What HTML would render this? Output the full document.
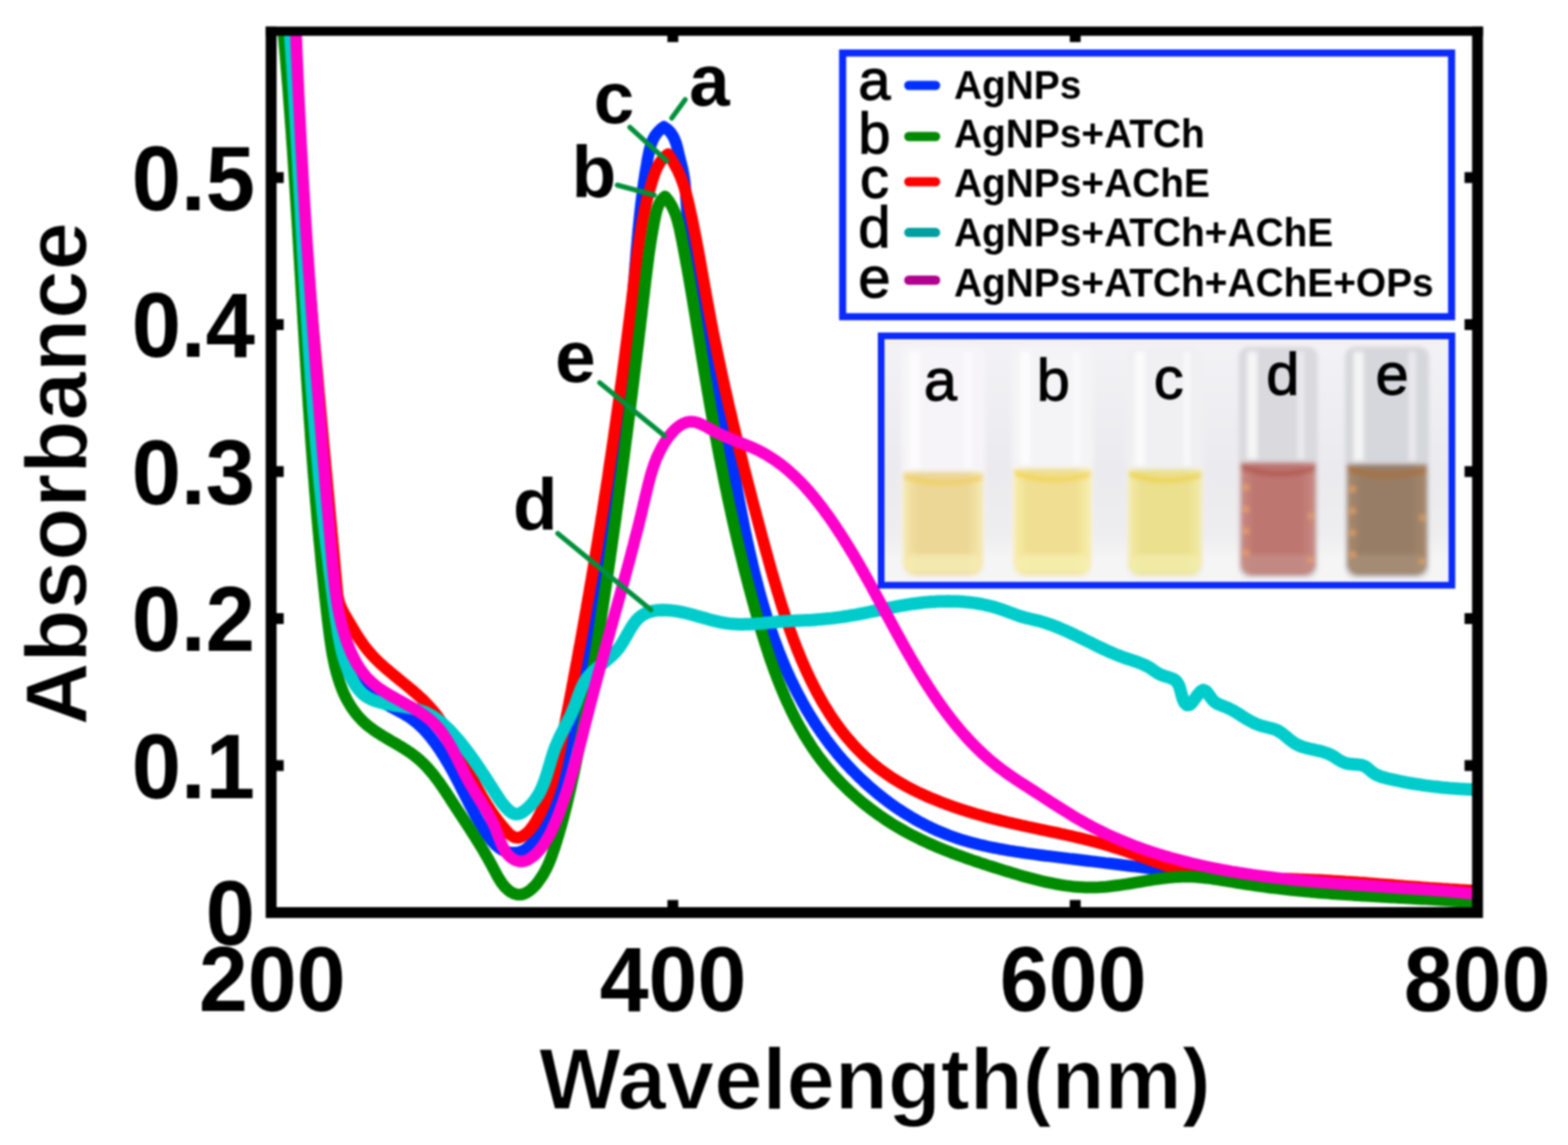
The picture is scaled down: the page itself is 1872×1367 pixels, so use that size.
<!DOCTYPE html>
<html><head><meta charset="utf-8"><title>UV-vis absorbance spectra</title>
<style>html,body{margin:0;padding:0;background:#fff;overflow:hidden}svg{display:block;filter:blur(1.2px)}</style>
</head><body>
<svg width="1872" height="1367" viewBox="0 0 1872 1367">
<defs><clipPath id="pc"><rect x="323" y="37" width="1441" height="1052"/></clipPath>
<filter id="blur1" x="-5%" y="-5%" width="110%" height="110%"><feGaussianBlur stdDeviation="0.8"/></filter>
<filter id="blur3" x="-10%" y="-10%" width="120%" height="120%"><feGaussianBlur stdDeviation="3"/></filter>
</defs>
<rect width="1872" height="1367" fill="#fff"/>
<g clip-path="url(#pc)" fill="none" stroke-linejoin="round" stroke-linecap="round">
<path d="M349.9,9.8 350.1,13.8 350.2,17.7 350.3,21.7 350.4,25.7 350.5,29.7 350.7,33.7 350.8,37.7 350.9,41.7 351.1,45.7 351.2,49.7 351.3,53.7 351.5,57.7 351.6,61.6 351.8,65.6 351.9,69.6 352.1,73.6 352.3,77.6 352.4,81.6 352.6,85.6 352.7,89.6 352.9,93.6 353.1,97.6 353.3,101.5 353.4,105.5 353.6,109.5 353.8,113.5 354.0,117.5 354.2,121.5 354.4,125.5 354.6,129.5 354.8,133.5 355.0,137.4 355.2,141.4 355.4,145.4 355.6,149.4 355.8,153.4 356.0,157.4 356.2,161.4 356.4,165.4 356.6,169.3 356.8,173.3 357.1,177.3 357.3,181.3 357.5,185.3 357.7,189.3 358.0,193.3 358.2,197.2 358.4,201.2 358.7,205.2 358.9,209.2 359.2,213.2 359.4,217.2 359.6,221.2 359.9,225.1 360.1,229.1 360.4,233.1 360.6,237.1 360.9,241.1 361.2,245.1 361.4,249.1 361.7,253.0 361.9,257.0 362.2,261.0 362.5,265.0 362.7,269.0 363.0,273.0 363.3,276.9 363.5,280.9 363.8,284.9 364.1,288.9 364.4,292.9 364.6,296.9 364.9,300.8 365.2,304.8 365.5,308.8 365.8,312.8 366.0,316.8 366.3,320.8 366.6,324.7 366.9,328.7 367.2,332.7 367.5,336.7 367.8,340.7 368.1,344.7 368.4,348.6 368.7,352.6 369.0,356.6 369.3,360.6 369.6,364.6 369.9,368.5 370.2,372.5 370.5,376.5 370.8,380.5 371.1,384.5 371.4,388.5 371.7,392.4 372.0,396.4 372.3,400.4 372.6,404.4 373.0,408.4 373.3,412.3 373.6,416.3 373.9,420.3 374.2,424.3 374.5,428.3 374.8,432.2 375.2,436.2 375.5,440.2 375.8,444.2 376.1,448.2 376.4,452.1 376.8,456.1 377.1,460.1 377.4,464.1 377.7,468.1 378.1,472.0 378.4,476.0 378.7,480.0 379.0,484.0 379.4,488.0 379.7,491.9 380.0,495.9 380.3,499.9 380.7,503.9 381.0,507.9 381.3,511.8 381.6,515.8 382.0,519.8 382.3,523.8 382.6,527.8 382.9,531.7 383.3,535.7 383.6,539.7 383.9,543.7 384.3,547.7 384.6,551.6 384.9,555.6 385.2,559.6 385.6,563.6 385.9,567.6 386.2,571.5 386.6,575.5 386.9,579.5 387.2,583.5 387.5,587.5 387.9,591.4 388.2,595.4 388.5,599.4 388.9,603.4 389.2,607.4 389.5,611.3 389.8,615.3 390.2,619.3 390.5,623.3 390.8,627.3 391.1,631.2 391.5,635.2 391.8,639.2 392.1,643.2 392.4,647.2 392.8,651.1 393.1,655.1 393.4,659.1 393.7,663.1 394.0,667.1 394.4,671.0 394.7,675.0 395.0,679.0 395.4,683.0 395.7,686.9 396.1,690.9 396.5,694.9 396.9,698.9 397.3,702.8 397.8,706.8 398.2,710.8 398.7,714.7 399.3,718.7 399.8,722.6 400.4,726.6 401.1,730.5 401.8,734.5 402.5,738.4 403.3,742.3 404.1,746.2 404.9,750.1 405.9,754.0 406.9,757.9 407.9,761.7 409.0,765.6 410.2,769.4 411.4,773.2 412.7,776.9 414.1,780.7 415.6,784.4 417.1,788.1 418.7,791.8 420.4,795.4 422.2,799.0 424.0,802.5 426.0,806.0 428.0,809.4 430.2,812.7 432.5,816.0 434.9,819.2 437.5,822.3 440.2,825.2 443.0,828.0 446.0,830.7 449.1,833.2 452.3,835.5 455.7,837.7 459.1,839.8 462.5,841.7 466.0,843.7 469.6,845.5 473.1,847.4 476.6,849.3 480.1,851.2 483.6,853.2 487.0,855.3 490.3,857.5 493.5,859.9 496.7,862.3 499.7,864.9 502.6,867.7 505.5,870.5 508.2,873.4 510.8,876.4 513.4,879.4 515.9,882.6 518.3,885.8 520.6,889.0 522.9,892.3 525.2,895.6 527.3,898.9 529.5,902.3 531.6,905.7 533.6,909.1 535.6,912.5 537.6,916.0 539.6,919.5 541.5,923.0 543.3,926.5 545.2,930.1 547.1,933.6 548.9,937.2 550.7,940.7 552.5,944.3 554.3,947.8 556.1,951.4 558.0,954.9 559.8,958.5 561.6,962.0 563.5,965.6 565.4,969.1 567.3,972.6 569.2,976.1 571.2,979.5 573.2,983.0 575.3,986.4 577.4,989.8 579.5,993.2 581.7,996.5 584.0,999.8 586.4,1003.0 589.0,1006.0 591.8,1008.9 594.8,1011.5 598.0,1013.8 601.6,1015.7 605.3,1017.0 609.2,1017.9 613.2,1018.1 617.2,1017.9 621.1,1017.0 624.8,1015.5 628.2,1013.4 631.3,1010.9 634.1,1008.1 636.6,1005.0 639.0,1001.8 641.2,998.4 643.2,995.0 645.1,991.5 646.9,987.9 648.6,984.3 650.2,980.6 651.7,977.0 653.2,973.2 654.6,969.5 655.9,965.7 657.2,962.0 658.5,958.2 659.7,954.4 660.9,950.6 662.1,946.8 663.3,942.9 664.4,939.1 665.5,935.3 666.6,931.4 667.7,927.6 668.8,923.7 669.8,919.9 670.9,916.0 671.9,912.2 672.9,908.3 673.9,904.4 674.9,900.6 675.9,896.7 676.8,892.8 677.8,889.0 678.8,885.1 679.7,881.2 680.6,877.3 681.5,873.4 682.5,869.5 683.4,865.7 684.2,861.8 685.1,857.9 686.0,854.0 686.9,850.1 687.7,846.2 688.6,842.3 689.4,838.4 690.2,834.5 691.0,830.5 691.9,826.6 692.7,822.7 693.5,818.8 694.3,814.9 695.0,811.0 695.8,807.1 696.6,803.1 697.3,799.2 698.1,795.3 698.8,791.4 699.6,787.5 700.3,783.5 701.0,779.6 701.8,775.7 702.5,771.8 703.2,767.8 703.9,763.9 704.6,760.0 705.3,756.0 706.0,752.1 706.6,748.2 707.3,744.2 708.0,740.3 708.7,736.4 709.3,732.4 710.0,728.5 710.6,724.5 711.3,720.6 711.9,716.7 712.6,712.7 713.2,708.8 713.8,704.8 714.5,700.9 715.1,696.9 715.7,693.0 716.3,689.1 716.9,685.1 717.6,681.2 718.2,677.2 718.8,673.3 719.4,669.3 719.9,665.4 720.5,661.4 721.1,657.5 721.7,653.5 722.3,649.6 722.9,645.6 723.4,641.7 724.0,637.7 724.5,633.8 725.1,629.8 725.7,625.9 726.2,621.9 726.8,617.9 727.3,614.0 727.8,610.0 728.4,606.1 728.9,602.1 729.4,598.2 730.0,594.2 730.5,590.2 731.0,586.3 731.5,582.3 732.0,578.4 732.5,574.4 733.0,570.4 733.5,566.5 734.0,562.5 734.5,558.5 735.0,554.6 735.5,550.6 736.0,546.7 736.4,542.7 736.9,538.7 737.4,534.8 737.8,530.8 738.3,526.8 738.8,522.9 739.2,518.9 739.7,514.9 740.1,511.0 740.6,507.0 741.0,503.0 741.5,499.1 741.9,495.1 742.3,491.1 742.8,487.2 743.2,483.2 743.6,479.2 744.0,475.2 744.5,471.3 744.9,467.3 745.3,463.3 745.7,459.4 746.1,455.4 746.5,451.4 746.9,447.4 747.3,443.5 747.7,439.5 748.1,435.5 748.5,431.5 748.9,427.6 749.2,423.6 749.6,419.6 750.0,415.6 750.4,411.7 750.7,407.7 751.1,403.7 751.5,399.7 751.8,395.8 752.2,391.8 752.5,387.8 752.9,383.8 753.2,379.9 753.6,375.9 753.9,371.9 754.3,367.9 754.6,363.9 755.0,360.0 755.3,356.0 755.6,352.0 756.0,348.0 756.3,344.0 756.6,340.1 756.9,336.1 757.3,332.1 757.6,328.1 757.9,324.1 758.2,320.2 758.5,316.2 758.9,312.2 759.2,308.2 759.5,304.2 759.8,300.3 760.2,296.3 760.5,292.3 760.9,288.3 761.2,284.3 761.6,280.4 761.9,276.4 762.3,272.4 762.7,268.4 763.1,264.5 763.5,260.5 763.9,256.5 764.3,252.6 764.8,248.6 765.2,244.6 765.7,240.7 766.2,236.7 766.7,232.7 767.2,228.8 767.7,224.8 768.3,220.9 768.8,216.9 769.4,213.0 770.0,209.0 770.6,205.1 771.3,201.1 772.0,197.2 772.6,193.3 773.3,189.3 774.1,185.4 774.9,181.5 775.8,177.6 776.9,173.7 778.1,170.0 779.7,166.3 781.6,162.8 783.9,159.5 786.5,156.5 789.4,153.8 792.7,151.5 L792.7,151.5 796.0,153.7 799.0,156.4 801.5,159.5 803.7,162.9 805.4,166.5 806.8,170.2 808.0,174.0 809.0,177.9 809.9,181.8 810.8,185.7 811.7,189.6 812.7,193.4 813.7,197.3 814.7,201.2 815.5,205.1 816.2,209.0 816.8,213.0 817.4,217.0 817.8,220.9 818.2,224.9 818.6,228.9 818.9,232.9 819.2,236.9 819.5,240.9 819.7,244.8 820.0,248.8 820.3,252.8 820.6,256.8 821.0,260.8 821.3,264.8 821.7,268.8 822.1,272.7 822.6,276.7 823.0,280.7 823.5,284.7 824.0,288.6 824.5,292.6 825.0,296.6 825.5,300.5 826.1,304.5 826.7,308.4 827.3,312.4 827.9,316.3 828.5,320.3 829.2,324.2 829.8,328.2 830.5,332.1 831.2,336.1 831.9,340.0 832.6,343.9 833.3,347.9 834.1,351.8 834.8,355.7 835.6,359.6 836.3,363.6 837.1,367.5 837.9,371.4 838.7,375.3 839.5,379.2 840.3,383.2 841.1,387.1 841.9,391.0 842.8,394.9 843.6,398.8 844.4,402.7 845.3,406.6 846.1,410.6 846.9,414.5 847.8,418.4 848.6,422.3 849.4,426.2 850.3,430.1 851.1,434.0 851.9,437.9 852.8,441.8 853.6,445.7 854.4,449.7 855.3,453.6 856.1,457.5 856.9,461.4 857.7,465.3 858.5,469.2 859.3,473.2 860.1,477.1 860.8,481.0 861.6,484.9 862.4,488.8 863.1,492.8 863.9,496.7 864.6,500.6 865.3,504.6 866.1,508.5 866.8,512.4 867.5,516.4 868.3,520.3 869.0,524.2 869.7,528.2 870.4,532.1 871.1,536.0 871.8,540.0 872.5,543.9 873.3,547.8 874.0,551.8 874.7,555.7 875.4,559.6 876.1,563.6 876.8,567.5 877.5,571.4 878.3,575.4 879.0,579.3 879.7,583.2 880.4,587.2 881.2,591.1 881.9,595.0 882.7,599.0 883.4,602.9 884.2,606.8 884.9,610.7 885.7,614.7 886.5,618.6 887.3,622.5 888.0,626.4 888.8,630.3 889.6,634.3 890.5,638.2 891.3,642.1 892.1,646.0 893.0,649.9 893.8,653.8 894.7,657.7 895.6,661.6 896.5,665.5 897.4,669.4 898.3,673.3 899.2,677.2 900.1,681.1 901.1,685.0 902.1,688.8 903.1,692.7 904.1,696.6 905.1,700.5 906.1,704.3 907.1,708.2 908.2,712.0 909.3,715.9 910.4,719.7 911.5,723.6 912.7,727.4 913.8,731.2 915.0,735.0 916.2,738.9 917.4,742.7 918.7,746.5 919.9,750.3 921.2,754.0 922.5,757.8 923.8,761.6 925.2,765.4 926.6,769.1 928.0,772.9 929.4,776.6 930.9,780.3 932.3,784.0 933.8,787.7 935.4,791.4 936.9,795.1 938.5,798.8 940.1,802.4 941.8,806.1 943.4,809.7 945.1,813.3 946.9,816.9 948.6,820.5 950.4,824.1 952.2,827.7 954.1,831.2 956.0,834.7 957.9,838.3 959.8,841.7 961.8,845.2 963.8,848.7 965.9,852.1 968.0,855.5 970.1,858.9 972.2,862.3 974.4,865.6 976.6,869.0 978.9,872.3 981.1,875.6 983.5,878.8 985.8,882.1 988.2,885.3 990.6,888.5 993.1,891.6 995.5,894.7 998.1,897.9 1000.6,900.9 1003.2,904.0 1005.8,907.0 1008.5,910.0 1011.2,912.9 1013.9,915.9 1016.7,918.8 1019.5,921.6 1022.3,924.5 1025.1,927.3 1028.0,930.0 1030.9,932.8 1033.9,935.5 1036.8,938.2 1039.8,940.8 1042.9,943.4 1045.9,946.0 1049.0,948.5 1052.2,951.0 1055.3,953.5 1058.5,955.9 1061.7,958.3 1064.9,960.6 1068.2,962.9 1071.5,965.2 1074.8,967.4 1078.2,969.6 1081.6,971.7 1085.0,973.8 1088.4,975.9 1091.8,977.9 1095.3,979.9 1098.8,981.8 1102.4,983.6 1105.9,985.5 1109.5,987.2 1113.1,989.0 1116.8,990.6 1120.4,992.3 1124.1,993.8 1127.8,995.3 1131.5,996.8 1135.3,998.2 1139.0,999.5 1142.8,1000.8 1146.6,1002.1 1150.4,1003.2 1154.3,1004.4 1158.1,1005.5 1162.0,1006.5 1165.8,1007.5 1169.7,1008.5 1173.6,1009.4 1177.5,1010.3 1181.4,1011.2 1185.3,1012.0 1189.3,1012.7 1193.2,1013.5 1197.1,1014.2 1201.1,1014.9 1205.0,1015.6 1209.0,1016.2 1212.9,1016.8 1216.9,1017.4 1220.8,1018.0 1224.8,1018.6 1228.7,1019.1 1232.7,1019.6 1236.7,1020.2 1240.6,1020.7 1244.6,1021.2 1248.6,1021.7 1252.5,1022.1 1256.5,1022.6 1260.5,1023.1 1264.4,1023.6 1268.4,1024.1 1272.4,1024.6 1276.3,1025.1 1280.3,1025.5 1284.3,1026.0 1288.3,1026.5 1292.2,1027.0 1296.2,1027.5 1300.2,1028.0 1304.1,1028.4 1308.1,1028.9 1312.1,1029.4 1316.0,1029.9 1320.0,1030.4 1324.0,1030.8 1327.9,1031.3 1331.9,1031.8 1335.9,1032.3 1339.9,1032.8 1343.8,1033.2 1347.8,1033.7 1351.8,1034.2 1355.7,1034.6 1359.7,1035.1 1363.7,1035.6 1367.7,1036.1 1371.6,1036.5 1375.6,1037.0 1379.6,1037.4 1383.5,1037.9 1387.5,1038.4 1391.5,1038.8 1395.5,1039.3 1399.4,1039.7 1403.4,1040.2 1407.4,1040.6 1411.4,1041.1 1415.3,1041.5 1419.3,1042.0 1423.3,1042.4 1427.2,1042.9 1431.2,1043.3 1435.2,1043.7 1439.2,1044.2 1443.1,1044.6 1447.1,1045.0 1451.1,1045.4 1455.1,1045.9 1459.1,1046.3 1463.0,1046.7 1467.0,1047.1 1471.0,1047.5 1475.0,1048.0 1478.9,1048.4 1482.9,1048.8 1486.9,1049.2 1490.9,1049.6 1494.9,1050.0 1498.8,1050.4 1502.8,1050.7 1506.8,1051.1 1510.8,1051.5 1514.8,1051.9 1518.7,1052.3 1522.7,1052.7 1526.7,1053.0 1530.7,1053.4 1534.7,1053.8 1538.6,1054.1 1542.6,1054.5 1546.6,1054.8 1550.6,1055.2 1554.6,1055.5 1558.6,1055.9 1562.5,1056.2 1566.5,1056.5 1570.5,1056.9 1574.5,1057.2 1578.5,1057.5 1582.5,1057.8 1586.5,1058.1 1590.4,1058.4 1594.4,1058.7 1598.4,1059.0 1602.4,1059.3 1606.4,1059.6 1610.4,1059.9 1614.4,1060.2 1618.4,1060.5 1622.3,1060.8 1626.3,1061.0 1630.3,1061.3 1634.3,1061.5 1638.3,1061.8 1642.3,1062.1 1646.3,1062.3 1650.3,1062.5 1654.3,1062.8 1658.3,1063.0 1662.3,1063.2 1666.3,1063.4 1670.2,1063.7 1674.2,1063.9 1678.2,1064.1 1682.2,1064.3 1686.2,1064.5 1690.2,1064.6 1694.2,1064.8 1698.2,1065.0 1702.2,1065.2 1706.2,1065.3 1710.2,1065.5 1714.2,1065.6 1718.2,1065.8 1722.2,1065.9 1726.2,1066.1 1730.2,1066.2 1734.2,1066.3 1738.2,1066.4 1742.2,1066.6 1746.2,1066.7 1750.2,1066.8 1754.2,1066.8 1758.1,1066.9 1762.1,1067.0 1766.1,1067.1 1770.1,1067.2" stroke="#0030ff" stroke-width="14"/>
<path d="M350.5,9.9 350.6,13.9 350.7,17.9 350.8,21.9 350.9,25.9 351.1,29.9 351.2,33.9 351.3,37.8 351.5,41.8 351.6,45.8 351.8,49.8 351.9,53.8 352.1,57.8 352.2,61.8 352.4,65.8 352.6,69.8 352.7,73.8 352.9,77.8 353.1,81.7 353.2,85.7 353.4,89.7 353.6,93.7 353.8,97.7 354.0,101.7 354.2,105.7 354.3,109.7 354.5,113.7 354.7,117.6 354.9,121.6 355.1,125.6 355.4,129.6 355.6,133.6 355.8,137.6 356.0,141.6 356.2,145.6 356.4,149.6 356.6,153.5 356.9,157.5 357.1,161.5 357.3,165.5 357.6,169.5 357.8,173.5 358.0,177.5 358.3,181.4 358.5,185.4 358.8,189.4 359.0,193.4 359.3,197.4 359.5,201.4 359.8,205.4 360.0,209.3 360.3,213.3 360.6,217.3 360.8,221.3 361.1,225.3 361.4,229.3 361.6,233.3 361.9,237.2 362.2,241.2 362.5,245.2 362.7,249.2 363.0,253.2 363.3,257.2 363.6,261.1 363.9,265.1 364.2,269.1 364.5,273.1 364.8,277.1 365.0,281.1 365.3,285.0 365.6,289.0 365.9,293.0 366.3,297.0 366.6,301.0 366.9,304.9 367.2,308.9 367.5,312.9 367.8,316.9 368.1,320.9 368.4,324.9 368.7,328.8 369.1,332.8 369.4,336.8 369.7,340.8 370.0,344.8 370.3,348.7 370.7,352.7 371.0,356.7 371.3,360.7 371.7,364.7 372.0,368.6 372.3,372.6 372.7,376.6 373.0,380.6 373.3,384.6 373.7,388.5 374.0,392.5 374.3,396.5 374.7,400.5 375.0,404.5 375.4,408.4 375.7,412.4 376.1,416.4 376.4,420.4 376.8,424.3 377.1,428.3 377.4,432.3 377.8,436.3 378.2,440.3 378.5,444.2 378.9,448.2 379.2,452.2 379.6,456.2 379.9,460.1 380.3,464.1 380.6,468.1 381.0,472.1 381.4,476.1 381.7,480.0 382.1,484.0 382.4,488.0 382.8,492.0 383.2,495.9 383.5,499.9 383.9,503.9 384.2,507.9 384.6,511.9 385.0,515.8 385.3,519.8 385.7,523.8 386.1,527.8 386.4,531.7 386.8,535.7 387.2,539.7 387.5,543.7 387.9,547.6 388.3,551.6 388.6,555.6 389.0,559.6 389.4,563.5 389.8,567.5 390.1,571.5 390.5,575.5 390.9,579.5 391.2,583.4 391.6,587.4 392.0,591.4 392.3,595.4 392.7,599.3 393.1,603.3 393.4,607.3 393.8,611.3 394.2,615.2 394.5,619.2 394.9,623.2 395.3,627.2 395.7,631.1 396.0,635.1 396.4,639.1 396.8,643.1 397.1,647.1 397.5,651.0 397.9,655.0 398.2,659.0 398.6,663.0 399.0,666.9 399.3,670.9 399.7,674.9 400.0,678.9 400.4,682.8 400.8,686.8 401.1,690.8 401.5,694.8 401.9,698.8 402.2,702.7 402.6,706.7 403.1,710.7 403.8,714.6 404.8,718.5 406.0,722.3 407.6,725.9 409.3,729.5 411.2,733.0 413.2,736.5 415.2,740.0 417.2,743.4 419.3,746.8 421.3,750.3 423.4,753.7 425.5,757.1 427.6,760.5 429.8,763.8 432.1,767.1 434.4,770.4 436.8,773.6 439.3,776.7 441.9,779.7 444.5,782.7 447.3,785.6 450.1,788.4 453.0,791.2 455.9,793.9 458.9,796.5 461.9,799.1 465.0,801.7 468.0,804.3 471.1,806.8 474.2,809.3 477.3,811.9 480.4,814.4 483.5,816.9 486.6,819.4 489.7,822.0 492.7,824.5 495.8,827.2 498.8,829.8 501.7,832.5 504.6,835.2 507.4,838.1 510.2,840.9 512.9,843.9 515.5,846.9 518.1,849.9 520.6,853.1 523.0,856.3 525.3,859.5 527.6,862.8 529.8,866.1 532.0,869.5 534.1,872.9 536.1,876.3 538.1,879.7 540.1,883.2 542.0,886.7 543.9,890.2 545.8,893.7 547.7,897.3 549.5,900.8 551.3,904.4 553.1,908.0 554.9,911.5 556.7,915.1 558.5,918.7 560.3,922.2 562.1,925.8 563.9,929.4 565.7,932.9 567.5,936.5 569.4,940.0 571.3,943.5 573.3,947.0 575.2,950.5 577.2,953.9 579.3,957.3 581.4,960.7 583.6,964.1 585.7,967.4 588.0,970.7 590.3,974.0 592.6,977.2 595.0,980.4 597.5,983.6 600.0,986.7 602.6,989.7 605.2,992.7 608.0,995.6 611.2,998.0 614.7,999.8 618.7,1000.2 622.5,999.1 625.9,997.1 629.1,994.6 631.9,991.8 634.4,988.7 636.8,985.5 639.0,982.2 641.0,978.7 642.9,975.2 644.8,971.7 646.5,968.1 648.2,964.5 649.8,960.8 651.4,957.1 652.9,953.4 654.3,949.7 655.6,945.9 656.9,942.1 658.1,938.3 659.3,934.5 660.4,930.7 661.4,926.8 662.4,923.0 663.3,919.1 664.3,915.2 665.1,911.3 666.0,907.4 666.8,903.5 667.6,899.6 668.4,895.7 669.2,891.7 670.0,887.8 670.8,883.9 671.5,880.0 672.3,876.1 673.1,872.2 673.8,868.2 674.6,864.3 675.4,860.4 676.1,856.5 676.9,852.6 677.7,848.6 678.4,844.7 679.2,840.8 679.9,836.9 680.7,832.9 681.4,829.0 682.2,825.1 682.9,821.2 683.6,817.2 684.4,813.3 685.1,809.4 685.8,805.5 686.6,801.5 687.3,797.6 688.0,793.7 688.8,789.8 689.5,785.8 690.2,781.9 690.9,778.0 691.6,774.1 692.4,770.1 693.1,766.2 693.8,762.3 694.5,758.3 695.2,754.4 695.9,750.5 696.6,746.5 697.3,742.6 698.0,738.7 698.7,734.7 699.4,730.8 700.1,726.9 700.7,722.9 701.4,719.0 702.1,715.1 702.8,711.1 703.5,707.2 704.1,703.3 704.8,699.3 705.5,695.4 706.2,691.5 706.8,687.5 707.5,683.6 708.2,679.6 708.8,675.7 709.5,671.8 710.1,667.8 710.8,663.9 711.4,659.9 712.1,656.0 712.7,652.1 713.4,648.1 714.0,644.2 714.6,640.2 715.3,636.3 715.9,632.4 716.6,628.4 717.2,624.5 717.8,620.5 718.4,616.6 719.1,612.6 719.7,608.7 720.3,604.7 720.9,600.8 721.5,596.9 722.1,592.9 722.7,589.0 723.4,585.0 724.0,581.1 724.6,577.1 725.2,573.2 725.8,569.2 726.4,565.3 726.9,561.3 727.5,557.4 728.1,553.4 728.7,549.5 729.3,545.5 729.9,541.6 730.5,537.6 731.0,533.7 731.6,529.7 732.2,525.8 732.8,521.8 733.3,517.9 733.9,513.9 734.5,509.9 735.0,506.0 735.6,502.0 736.1,498.1 736.7,494.1 737.2,490.2 737.8,486.2 738.3,482.3 738.9,478.3 739.4,474.4 740.0,470.4 740.5,466.4 741.0,462.5 741.6,458.5 742.1,454.6 742.6,450.6 743.2,446.7 743.7,442.7 744.2,438.7 744.7,434.8 745.3,430.8 745.8,426.9 746.3,422.9 746.8,418.9 747.3,415.0 747.8,411.0 748.3,407.1 748.8,403.1 749.3,399.1 749.8,395.2 750.3,391.2 750.8,387.2 751.3,383.3 751.8,379.3 752.3,375.4 752.8,371.4 753.3,367.4 753.8,363.5 754.3,359.5 754.7,355.5 755.2,351.6 755.7,347.6 756.2,343.6 756.6,339.7 757.1,335.7 757.6,331.7 758.0,327.8 758.5,323.8 759.0,319.8 759.5,315.9 760.0,311.9 760.5,307.9 761.0,304.0 761.5,300.0 762.0,296.1 762.6,292.1 763.1,288.2 763.7,284.2 764.3,280.3 765.0,276.3 765.6,272.4 766.3,268.4 767.0,264.5 767.7,260.6 768.5,256.7 769.3,252.8 770.1,248.8 771.0,244.9 771.9,241.1 772.8,237.2 773.8,233.3 774.8,229.4 775.9,225.6 777.0,221.8 778.1,217.9 779.3,214.1 780.5,210.3 781.9,206.6 783.3,202.8 785.0,199.2 786.9,195.7 789.1,192.4 791.6,189.3 794.5,186.5 797.6,184.0 L797.6,184.0 799.8,187.3 802.0,190.7 804.1,194.1 806.0,197.6 807.9,201.1 809.7,204.7 811.3,208.3 812.9,212.0 814.3,215.8 815.6,219.5 816.9,223.3 818.0,227.2 819.1,231.0 820.1,234.9 821.1,238.8 822.0,242.6 822.9,246.5 823.8,250.4 824.6,254.3 825.5,258.2 826.3,262.2 827.1,266.1 827.9,270.0 828.7,273.9 829.5,277.8 830.3,281.8 831.0,285.7 831.8,289.6 832.5,293.5 833.3,297.5 834.0,301.4 834.7,305.3 835.4,309.3 836.1,313.2 836.8,317.1 837.5,321.1 838.2,325.0 838.9,329.0 839.6,332.9 840.3,336.8 841.0,340.8 841.7,344.7 842.4,348.6 843.1,352.6 843.8,356.5 844.5,360.4 845.3,364.4 846.0,368.3 846.7,372.2 847.5,376.2 848.2,380.1 848.9,384.0 849.7,388.0 850.5,391.9 851.2,395.8 852.0,399.7 852.8,403.6 853.6,407.6 854.4,411.5 855.2,415.4 856.0,419.3 856.8,423.2 857.6,427.2 858.4,431.1 859.3,435.0 860.1,438.9 860.9,442.8 861.8,446.7 862.6,450.6 863.5,454.5 864.4,458.4 865.2,462.3 866.1,466.2 867.0,470.1 867.9,474.0 868.7,477.9 869.6,481.8 870.5,485.7 871.4,489.6 872.4,493.5 873.3,497.4 874.2,501.3 875.1,505.2 876.0,509.1 877.0,513.0 877.9,516.8 878.8,520.7 879.8,524.6 880.7,528.5 881.7,532.4 882.7,536.3 883.6,540.1 884.6,544.0 885.6,547.9 886.5,551.8 887.5,555.7 888.5,559.5 889.5,563.4 890.5,567.3 891.5,571.2 892.5,575.0 893.5,578.9 894.5,582.8 895.5,586.6 896.5,590.5 897.5,594.4 898.5,598.2 899.5,602.1 900.5,606.0 901.6,609.8 902.6,613.7 903.6,617.6 904.7,621.4 905.7,625.3 906.7,629.2 907.8,633.0 908.8,636.9 909.8,640.7 910.9,644.6 911.9,648.5 913.0,652.3 914.0,656.2 915.1,660.0 916.2,663.9 917.2,667.7 918.3,671.6 919.4,675.5 920.4,679.3 921.5,683.1 922.6,687.0 923.7,690.8 924.8,694.7 926.0,698.5 927.1,702.4 928.2,706.2 929.4,710.0 930.6,713.8 931.7,717.7 932.9,721.5 934.1,725.3 935.4,729.1 936.6,732.9 937.8,736.7 939.1,740.5 940.4,744.3 941.7,748.0 943.0,751.8 944.4,755.6 945.7,759.3 947.1,763.1 948.5,766.8 950.0,770.6 951.4,774.3 952.9,778.0 954.4,781.7 955.9,785.4 957.5,789.1 959.1,792.8 960.7,796.4 962.3,800.1 964.0,803.7 965.7,807.3 967.4,810.9 969.2,814.5 971.0,818.1 972.8,821.7 974.6,825.2 976.5,828.7 978.5,832.2 980.4,835.7 982.4,839.2 984.5,842.6 986.6,846.0 988.7,849.4 990.8,852.8 993.0,856.1 995.3,859.4 997.6,862.7 999.9,866.0 1002.3,869.2 1004.7,872.4 1007.1,875.5 1009.6,878.6 1012.2,881.7 1014.8,884.7 1017.4,887.7 1020.1,890.7 1022.9,893.6 1025.7,896.5 1028.5,899.3 1031.4,902.1 1034.3,904.8 1037.2,907.5 1040.3,910.1 1043.3,912.7 1046.4,915.2 1049.6,917.7 1052.8,920.1 1056.0,922.4 1059.3,924.7 1062.6,927.0 1065.9,929.2 1069.3,931.3 1072.7,933.4 1076.2,935.4 1079.7,937.4 1083.2,939.3 1086.7,941.2 1090.2,943.0 1093.8,944.8 1097.4,946.5 1101.0,948.2 1104.7,949.9 1108.3,951.5 1112.0,953.1 1115.7,954.6 1119.4,956.1 1123.1,957.6 1126.9,959.0 1130.6,960.4 1134.4,961.8 1138.1,963.1 1141.9,964.4 1145.7,965.7 1149.5,966.9 1153.3,968.2 1157.1,969.3 1161.0,970.5 1164.8,971.6 1168.6,972.7 1172.5,973.8 1176.3,974.9 1180.2,975.9 1184.1,977.0 1187.9,977.9 1191.8,978.9 1195.7,979.9 1199.6,980.8 1203.5,981.7 1207.4,982.6 1211.3,983.5 1215.2,984.4 1219.1,985.3 1223.0,986.1 1226.9,987.0 1230.8,987.8 1234.7,988.7 1238.6,989.5 1242.5,990.3 1246.4,991.1 1250.4,992.0 1254.3,992.8 1258.2,993.6 1262.1,994.4 1266.0,995.3 1269.9,996.1 1273.8,997.0 1277.7,997.9 1281.6,998.8 1285.5,999.7 1289.4,1000.6 1293.3,1001.5 1297.2,1002.5 1301.1,1003.4 1304.9,1004.4 1308.8,1005.5 1312.6,1006.5 1316.5,1007.6 1320.3,1008.7 1324.2,1009.8 1328.0,1011.0 1331.8,1012.2 1335.6,1013.4 1339.4,1014.6 1343.2,1015.9 1347.0,1017.2 1350.8,1018.6 1354.5,1019.9 1358.3,1021.3 1362.0,1022.6 1365.8,1024.0 1369.6,1025.4 1373.3,1026.7 1377.1,1028.1 1380.9,1029.4 1384.6,1030.7 1388.4,1032.0 1392.2,1033.3 1396.0,1034.5 1399.8,1035.7 1403.7,1036.8 1407.5,1037.9 1411.4,1039.0 1415.2,1040.0 1419.1,1040.9 1423.0,1041.8 1426.9,1042.6 1430.9,1043.4 1434.8,1044.0 1438.8,1044.6 1442.7,1045.2 1446.7,1045.7 1450.7,1046.1 1454.6,1046.5 1458.6,1046.8 1462.6,1047.1 1466.6,1047.4 1470.6,1047.6 1474.6,1047.8 1478.6,1048.0 1482.6,1048.1 1486.6,1048.2 1490.6,1048.3 1494.6,1048.4 1498.6,1048.5 1502.6,1048.5 1506.6,1048.6 1510.6,1048.6 1514.6,1048.7 1518.6,1048.7 1522.6,1048.8 1526.6,1048.9 1530.6,1049.0 1534.6,1049.1 1538.6,1049.2 1542.5,1049.3 1546.5,1049.4 1550.5,1049.6 1554.5,1049.7 1558.5,1049.9 1562.5,1050.1 1566.5,1050.2 1570.5,1050.4 1574.5,1050.6 1578.5,1050.8 1582.5,1051.0 1586.5,1051.2 1590.5,1051.5 1594.5,1051.7 1598.5,1051.9 1602.5,1052.2 1606.4,1052.5 1610.4,1052.7 1614.4,1053.0 1618.4,1053.3 1622.4,1053.6 1626.4,1053.8 1630.4,1054.1 1634.4,1054.4 1638.4,1054.7 1642.3,1055.1 1646.3,1055.4 1650.3,1055.7 1654.3,1056.0 1658.3,1056.3 1662.3,1056.6 1666.3,1056.9 1670.2,1057.2 1674.2,1057.6 1678.2,1057.9 1682.2,1058.2 1686.2,1058.5 1690.2,1058.8 1694.2,1059.1 1698.1,1059.4 1702.1,1059.7 1706.1,1060.0 1710.1,1060.2 1714.1,1060.5 1718.1,1060.8 1722.1,1061.1 1726.1,1061.3 1730.1,1061.6 1734.1,1061.8 1738.0,1062.0 1742.0,1062.3 1746.0,1062.5 1750.0,1062.7 1754.0,1062.9 1758.0,1063.0 1762.0,1063.2 1766.0,1063.4 1770.0,1063.5" stroke="#ff0000" stroke-width="14"/>
<path d="M335.5,9.6 335.9,13.6 336.3,17.5 336.7,21.5 337.1,25.5 337.4,29.5 337.8,33.5 338.2,37.4 338.5,41.4 338.9,45.4 339.3,49.4 339.6,53.3 340.0,57.3 340.3,61.3 340.7,65.3 341.0,69.3 341.4,73.2 341.7,77.2 342.0,81.2 342.4,85.2 342.7,89.2 343.0,93.2 343.3,97.1 343.7,101.1 344.0,105.1 344.3,109.1 344.6,113.1 344.9,117.0 345.2,121.0 345.5,125.0 345.8,129.0 346.1,133.0 346.4,137.0 346.7,140.9 347.0,144.9 347.3,148.9 347.6,152.9 347.9,156.9 348.2,160.9 348.4,164.9 348.7,168.8 349.0,172.8 349.3,176.8 349.6,180.8 349.8,184.8 350.1,188.8 350.4,192.8 350.6,196.7 350.9,200.7 351.2,204.7 351.4,208.7 351.7,212.7 352.0,216.7 352.2,220.7 352.5,224.6 352.7,228.6 353.0,232.6 353.2,236.6 353.5,240.6 353.7,244.6 354.0,248.6 354.2,252.6 354.5,256.5 354.7,260.5 355.0,264.5 355.2,268.5 355.5,272.5 355.7,276.5 355.9,280.5 356.2,284.5 356.4,288.4 356.7,292.4 356.9,296.4 357.1,300.4 357.4,304.4 357.6,308.4 357.9,312.4 358.1,316.4 358.3,320.3 358.6,324.3 358.8,328.3 359.1,332.3 359.3,336.3 359.5,340.3 359.8,344.3 360.0,348.3 360.2,352.3 360.5,356.2 360.7,360.2 361.0,364.2 361.2,368.2 361.4,372.2 361.7,376.2 361.9,380.2 362.1,384.2 362.4,388.1 362.6,392.1 362.9,396.1 363.1,400.1 363.4,404.1 363.6,408.1 363.8,412.1 364.1,416.1 364.3,420.0 364.6,424.0 364.8,428.0 365.1,432.0 365.3,436.0 365.6,440.0 365.8,444.0 366.1,448.0 366.3,451.9 366.6,455.9 366.9,459.9 367.1,463.9 367.4,467.9 367.7,471.9 367.9,475.9 368.2,479.8 368.4,483.8 368.7,487.8 369.0,491.8 369.3,495.8 369.5,499.8 369.8,503.8 370.1,507.7 370.4,511.7 370.7,515.7 370.9,519.7 371.2,523.7 371.5,527.7 371.8,531.7 372.1,535.6 372.4,539.6 372.7,543.6 373.0,547.6 373.3,551.6 373.6,555.6 373.9,559.5 374.2,563.5 374.5,567.5 374.9,571.5 375.2,575.5 375.5,579.4 375.8,583.4 376.1,587.4 376.5,591.4 376.8,595.4 377.1,599.4 377.5,603.3 377.8,607.3 378.2,611.3 378.5,615.3 378.9,619.3 379.2,623.2 379.6,627.2 379.9,631.2 380.3,635.2 380.7,639.1 381.0,643.1 381.4,647.1 381.8,651.1 382.2,655.1 382.6,659.0 383.0,663.0 383.3,667.0 383.7,671.0 384.1,674.9 384.5,678.9 384.9,682.9 385.4,686.9 385.8,690.8 386.2,694.8 386.6,698.8 387.0,702.8 387.5,706.7 387.9,710.7 388.3,714.7 388.8,718.6 389.2,722.6 389.7,726.6 390.1,730.5 390.6,734.5 391.0,738.5 391.5,742.4 392.0,746.4 392.5,750.4 393.0,754.3 393.5,758.3 394.0,762.3 394.6,766.2 395.2,770.2 395.8,774.1 396.4,778.1 397.1,782.0 397.9,785.9 398.7,789.8 399.5,793.7 400.4,797.6 401.4,801.5 402.5,805.4 403.6,809.2 404.8,813.0 406.1,816.8 407.5,820.5 408.9,824.2 410.5,827.9 412.2,831.5 414.0,835.1 416.0,838.6 418.0,842.0 420.2,845.4 422.5,848.6 424.9,851.8 427.4,854.9 430.1,857.9 432.9,860.7 435.8,863.5 438.8,866.1 442.0,868.5 445.2,870.9 448.5,873.2 451.8,875.4 455.2,877.5 458.6,879.6 462.0,881.6 465.5,883.7 468.9,885.7 472.4,887.7 475.8,889.7 479.2,891.8 482.6,893.9 486.0,896.0 489.3,898.2 492.6,900.6 495.8,903.0 498.9,905.5 501.9,908.1 504.8,910.8 507.6,913.7 510.4,916.6 513.0,919.6 515.6,922.6 518.1,925.7 520.5,928.9 522.9,932.1 525.3,935.3 527.5,938.6 529.8,941.9 532.0,945.2 534.2,948.6 536.4,951.9 538.5,955.3 540.7,958.6 542.9,962.0 545.1,965.3 547.3,968.7 549.5,972.0 551.7,975.3 553.9,978.7 556.1,982.0 558.2,985.4 560.4,988.7 562.6,992.1 564.7,995.4 566.9,998.8 569.0,1002.2 571.1,1005.6 573.2,1009.0 575.3,1012.4 577.3,1015.8 579.3,1019.3 581.3,1022.7 583.3,1026.2 585.2,1029.7 587.2,1033.2 589.0,1036.7 590.9,1040.3 592.8,1043.8 594.7,1047.3 596.8,1050.7 599.0,1054.1 601.4,1057.2 604.1,1060.2 607.0,1062.9 610.3,1065.2 613.9,1067.0 617.7,1068.0 621.7,1068.1 625.6,1067.1 629.2,1065.4 632.5,1063.2 635.5,1060.6 638.4,1057.8 641.0,1054.8 643.4,1051.6 645.7,1048.3 647.9,1045.0 649.9,1041.5 651.8,1038.0 653.6,1034.4 655.2,1030.8 656.7,1027.1 658.2,1023.4 659.5,1019.6 660.8,1015.8 662.1,1012.1 663.3,1008.2 664.5,1004.4 665.6,1000.6 666.8,996.8 667.9,992.9 669.0,989.1 670.1,985.3 671.2,981.4 672.2,977.6 673.2,973.7 674.2,969.8 675.2,966.0 676.2,962.1 677.1,958.2 678.1,954.3 679.0,950.4 679.9,946.5 680.8,942.6 681.7,938.7 682.5,934.8 683.4,930.9 684.2,927.0 685.1,923.1 685.9,919.2 686.7,915.3 687.5,911.4 688.3,907.5 689.1,903.6 689.9,899.6 690.7,895.7 691.4,891.8 692.2,887.9 693.0,884.0 693.7,880.0 694.5,876.1 695.2,872.2 695.9,868.3 696.7,864.3 697.4,860.4 698.1,856.5 698.8,852.6 699.5,848.6 700.2,844.7 700.9,840.8 701.6,836.8 702.3,832.9 703.0,828.9 703.7,825.0 704.3,821.1 705.0,817.1 705.7,813.2 706.3,809.3 707.0,805.3 707.7,801.4 708.3,797.4 708.9,793.5 709.6,789.5 710.2,785.6 710.9,781.7 711.5,777.7 712.1,773.8 712.7,769.8 713.4,765.9 714.0,761.9 714.6,758.0 715.2,754.0 715.8,750.1 716.4,746.1 717.0,742.2 717.6,738.2 718.2,734.3 718.8,730.3 719.4,726.4 720.0,722.4 720.6,718.5 721.2,714.5 721.8,710.6 722.4,706.6 723.0,702.7 723.6,698.7 724.1,694.8 724.7,690.8 725.3,686.9 725.9,682.9 726.5,679.0 727.0,675.0 727.6,671.1 728.2,667.1 728.7,663.1 729.3,659.2 729.9,655.2 730.4,651.3 731.0,647.3 731.5,643.4 732.1,639.4 732.6,635.5 733.2,631.5 733.8,627.5 734.3,623.6 734.9,619.6 735.4,615.7 735.9,611.7 736.5,607.8 737.0,603.8 737.6,599.8 738.1,595.9 738.6,591.9 739.2,588.0 739.7,584.0 740.2,580.0 740.8,576.1 741.3,572.1 741.8,568.2 742.4,564.2 742.9,560.2 743.4,556.3 743.9,552.3 744.5,548.4 745.0,544.4 745.5,540.4 746.0,536.5 746.5,532.5 747.0,528.6 747.5,524.6 748.1,520.6 748.6,516.7 749.1,512.7 749.6,508.7 750.1,504.8 750.6,500.8 751.1,496.9 751.6,492.9 752.1,488.9 752.6,485.0 753.1,481.0 753.6,477.0 754.1,473.1 754.6,469.1 755.1,465.1 755.6,461.2 756.1,457.2 756.6,453.3 757.0,449.3 757.5,445.3 758.0,441.4 758.5,437.4 759.0,433.4 759.5,429.5 760.0,425.5 760.4,421.5 760.9,417.6 761.4,413.6 761.9,409.6 762.4,405.7 762.8,401.7 763.3,397.7 763.8,393.8 764.3,389.8 764.7,385.8 765.2,381.9 765.7,377.9 766.2,373.9 766.6,370.0 767.1,366.0 767.6,362.0 768.0,358.1 768.5,354.1 769.0,350.1 769.4,346.2 769.9,342.2 770.4,338.2 770.8,334.3 771.3,330.3 771.8,326.3 772.3,322.4 772.8,318.4 773.3,314.4 773.8,310.5 774.3,306.5 774.8,302.6 775.4,298.6 776.0,294.6 776.6,290.7 777.2,286.7 777.8,282.8 778.5,278.9 779.2,274.9 779.9,271.0 780.6,267.1 781.4,263.1 782.2,259.2 783.0,255.3 784.0,251.4 785.2,247.6 786.7,243.9 788.6,240.4 791.0,237.3 793.9,234.5 L794.0,234.5 796.5,237.5 798.9,240.7 801.0,244.1 802.9,247.6 804.6,251.3 806.2,255.0 807.5,258.7 808.7,262.6 809.7,266.4 810.7,270.3 811.6,274.2 812.4,278.1 813.2,282.0 814.0,285.9 814.8,289.9 815.5,293.8 816.3,297.7 817.0,301.6 817.8,305.6 818.5,309.5 819.2,313.4 820.0,317.4 820.7,321.3 821.4,325.3 822.1,329.2 822.8,333.1 823.4,337.1 824.1,341.0 824.8,345.0 825.5,348.9 826.1,352.8 826.8,356.8 827.4,360.7 828.1,364.7 828.7,368.6 829.4,372.6 830.0,376.5 830.7,380.5 831.3,384.4 831.9,388.4 832.6,392.3 833.2,396.3 833.9,400.2 834.5,404.2 835.1,408.1 835.8,412.1 836.4,416.0 837.0,420.0 837.7,423.9 838.3,427.9 839.0,431.8 839.6,435.7 840.3,439.7 840.9,443.6 841.6,447.6 842.2,451.5 842.9,455.5 843.6,459.4 844.2,463.4 844.9,467.3 845.6,471.2 846.3,475.2 846.9,479.1 847.6,483.1 848.3,487.0 849.0,490.9 849.7,494.9 850.4,498.8 851.1,502.8 851.8,506.7 852.5,510.6 853.3,514.6 854.0,518.5 854.7,522.4 855.5,526.4 856.2,530.3 856.9,534.2 857.7,538.1 858.4,542.1 859.2,546.0 860.0,549.9 860.7,553.9 861.5,557.8 862.3,561.7 863.1,565.6 863.8,569.5 864.6,573.5 865.4,577.4 866.2,581.3 867.1,585.2 867.9,589.1 868.7,593.0 869.5,597.0 870.4,600.9 871.2,604.8 872.1,608.7 872.9,612.6 873.8,616.5 874.6,620.4 875.5,624.3 876.4,628.2 877.3,632.1 878.2,636.0 879.1,639.9 880.0,643.8 880.9,647.7 881.8,651.6 882.8,655.5 883.7,659.4 884.7,663.2 885.6,667.1 886.6,671.0 887.5,674.9 888.5,678.8 889.5,682.7 890.5,686.5 891.5,690.4 892.5,694.3 893.5,698.1 894.5,702.0 895.6,705.9 896.6,709.7 897.6,713.6 898.7,717.5 899.8,721.3 900.8,725.2 901.9,729.0 903.0,732.9 904.1,736.7 905.2,740.5 906.3,744.4 907.4,748.2 908.6,752.1 909.7,755.9 910.9,759.7 912.1,763.5 913.3,767.4 914.5,771.2 915.7,775.0 917.0,778.8 918.2,782.6 919.5,786.4 920.8,790.1 922.2,793.9 923.5,797.7 924.9,801.4 926.3,805.2 927.7,808.9 929.1,812.7 930.6,816.4 932.1,820.1 933.6,823.8 935.2,827.5 936.7,831.1 938.3,834.8 940.0,838.5 941.7,842.1 943.4,845.7 945.1,849.3 946.9,852.9 948.7,856.5 950.5,860.0 952.4,863.5 954.3,867.1 956.3,870.5 958.3,874.0 960.3,877.5 962.4,880.9 964.5,884.3 966.6,887.6 968.8,891.0 971.0,894.3 973.3,897.6 975.6,900.9 978.0,904.1 980.4,907.3 982.9,910.4 985.3,913.6 987.9,916.7 990.5,919.7 993.1,922.8 995.7,925.7 998.4,928.7 1001.2,931.6 1003.9,934.5 1006.8,937.3 1009.6,940.1 1012.5,942.9 1015.4,945.6 1018.4,948.3 1021.3,951.0 1024.4,953.6 1027.4,956.2 1030.5,958.8 1033.6,961.3 1036.8,963.7 1039.9,966.2 1043.1,968.6 1046.4,970.9 1049.6,973.3 1052.9,975.5 1056.2,977.8 1059.6,980.0 1062.9,982.1 1066.3,984.3 1069.7,986.4 1073.2,988.4 1076.6,990.4 1080.1,992.4 1083.6,994.3 1087.1,996.2 1090.7,998.0 1094.3,999.8 1097.9,1001.6 1101.5,1003.3 1105.1,1005.0 1108.7,1006.7 1112.4,1008.3 1116.0,1009.9 1119.7,1011.5 1123.4,1013.0 1127.1,1014.5 1130.8,1016.0 1134.6,1017.4 1138.3,1018.9 1142.0,1020.3 1145.8,1021.6 1149.6,1023.0 1153.3,1024.3 1157.1,1025.7 1160.9,1027.0 1164.7,1028.3 1168.5,1029.5 1172.3,1030.8 1176.1,1032.0 1179.9,1033.3 1183.7,1034.5 1187.5,1035.7 1191.3,1036.9 1195.1,1038.1 1198.9,1039.3 1202.7,1040.5 1206.6,1041.6 1210.4,1042.8 1214.2,1043.9 1218.1,1045.1 1221.9,1046.2 1225.8,1047.3 1229.6,1048.3 1233.5,1049.3 1237.4,1050.3 1241.2,1051.3 1245.1,1052.2 1249.0,1053.1 1252.9,1053.9 1256.9,1054.7 1260.8,1055.5 1264.7,1056.2 1268.7,1056.8 1272.6,1057.4 1276.6,1057.9 1280.6,1058.4 1284.6,1058.7 1288.6,1059.1 1292.5,1059.3 1296.5,1059.5 1300.5,1059.5 1304.5,1059.5 1308.5,1059.4 1312.5,1059.3 1316.5,1059.0 1320.5,1058.7 1324.5,1058.3 1328.5,1057.8 1332.4,1057.3 1336.4,1056.8 1340.3,1056.2 1344.3,1055.6 1348.3,1055.0 1352.2,1054.3 1356.1,1053.6 1360.1,1053.0 1364.0,1052.3 1368.0,1051.6 1371.9,1051.0 1375.9,1050.4 1379.8,1049.7 1383.8,1049.2 1387.7,1048.7 1391.7,1048.2 1395.7,1047.7 1399.7,1047.4 1403.7,1047.1 1407.7,1046.9 1411.7,1046.7 1415.7,1046.7 1419.7,1046.7 1423.6,1046.8 1427.6,1047.1 1431.6,1047.4 1435.6,1047.7 1439.6,1048.2 1443.6,1048.6 1447.5,1049.2 1451.5,1049.7 1455.4,1050.3 1459.4,1051.0 1463.3,1051.6 1467.3,1052.3 1471.2,1052.9 1475.2,1053.6 1479.1,1054.3 1483.1,1054.9 1487.0,1055.5 1491.0,1056.1 1494.9,1056.7 1498.9,1057.3 1502.8,1057.9 1506.8,1058.4 1510.8,1058.9 1514.7,1059.5 1518.7,1060.0 1522.7,1060.4 1526.6,1060.9 1530.6,1061.4 1534.6,1061.8 1538.6,1062.3 1542.5,1062.7 1546.5,1063.1 1550.5,1063.5 1554.5,1063.9 1558.5,1064.3 1562.4,1064.6 1566.4,1065.0 1570.4,1065.3 1574.4,1065.7 1578.4,1066.0 1582.4,1066.3 1586.4,1066.6 1590.3,1066.9 1594.3,1067.2 1598.3,1067.5 1602.3,1067.8 1606.3,1068.1 1610.3,1068.3 1614.3,1068.6 1618.3,1068.9 1622.3,1069.1 1626.3,1069.4 1630.2,1069.6 1634.2,1069.8 1638.2,1070.1 1642.2,1070.3 1646.2,1070.5 1650.2,1070.8 1654.2,1071.0 1658.2,1071.2 1662.2,1071.4 1666.2,1071.6 1670.2,1071.9 1674.2,1072.1 1678.2,1072.3 1682.2,1072.5 1686.2,1072.7 1690.1,1072.9 1694.1,1073.2 1698.1,1073.4 1702.1,1073.6 1706.1,1073.8 1710.1,1074.1 1714.1,1074.3 1718.1,1074.5 1722.1,1074.8 1726.1,1075.0 1730.1,1075.3 1734.1,1075.5 1738.1,1075.8 1742.1,1076.0 1746.0,1076.3 1750.0,1076.6 1754.0,1076.9 1758.0,1077.1 1762.0,1077.4 1766.0,1077.7 1770.0,1078.1" stroke="#008c00" stroke-width="14"/>
<path d="M344.3,10.0 344.6,14.0 344.9,18.0 345.1,21.9 345.4,25.9 345.7,29.9 346.0,33.9 346.3,37.9 346.6,41.9 346.8,45.9 347.1,49.9 347.4,53.8 347.7,57.8 347.9,61.8 348.2,65.8 348.5,69.8 348.7,73.8 349.0,77.8 349.2,81.7 349.5,85.7 349.8,89.7 350.0,93.7 350.3,97.7 350.5,101.7 350.8,105.7 351.0,109.7 351.3,113.7 351.5,117.6 351.7,121.6 352.0,125.6 352.2,129.6 352.5,133.6 352.7,137.6 352.9,141.6 353.2,145.6 353.4,149.6 353.6,153.5 353.9,157.5 354.1,161.5 354.3,165.5 354.6,169.5 354.8,173.5 355.0,177.5 355.2,181.5 355.5,185.5 355.7,189.4 355.9,193.4 356.2,197.4 356.4,201.4 356.6,205.4 356.8,209.4 357.0,213.4 357.3,217.4 357.5,221.4 357.7,225.4 357.9,229.3 358.2,233.3 358.4,237.3 358.6,241.3 358.8,245.3 359.1,249.3 359.3,253.3 359.5,257.3 359.7,261.3 359.9,265.3 360.2,269.2 360.4,273.2 360.6,277.2 360.8,281.2 361.1,285.2 361.3,289.2 361.5,293.2 361.7,297.2 362.0,301.2 362.2,305.2 362.4,309.1 362.7,313.1 362.9,317.1 363.1,321.1 363.3,325.1 363.6,329.1 363.8,333.1 364.0,337.1 364.3,341.1 364.5,345.0 364.8,349.0 365.0,353.0 365.2,357.0 365.5,361.0 365.7,365.0 366.0,369.0 366.2,373.0 366.5,377.0 366.7,380.9 367.0,384.9 367.2,388.9 367.5,392.9 367.7,396.9 368.0,400.9 368.3,404.9 368.5,408.9 368.8,412.8 369.0,416.8 369.3,420.8 369.6,424.8 369.9,428.8 370.1,432.8 370.4,436.8 370.7,440.8 371.0,444.7 371.2,448.7 371.5,452.7 371.8,456.7 372.1,460.7 372.4,464.7 372.7,468.7 373.0,472.6 373.3,476.6 373.6,480.6 373.9,484.6 374.2,488.6 374.5,492.6 374.8,496.5 375.2,500.5 375.5,504.5 375.8,508.5 376.1,512.5 376.5,516.5 376.8,520.4 377.1,524.4 377.5,528.4 377.8,532.4 378.2,536.4 378.5,540.3 378.9,544.3 379.2,548.3 379.6,552.3 379.9,556.3 380.3,560.2 380.7,564.2 381.1,568.2 381.4,572.2 381.8,576.2 382.2,580.1 382.6,584.1 383.0,588.1 383.4,592.1 383.8,596.0 384.2,600.0 384.6,604.0 385.0,608.0 385.4,611.9 385.9,615.9 386.3,619.9 386.7,623.9 387.2,627.8 387.6,631.8 388.0,635.8 388.5,639.7 388.9,643.7 389.4,647.7 389.9,651.7 390.3,655.6 390.8,659.6 391.3,663.6 391.8,667.5 392.3,671.5 392.7,675.5 393.2,679.4 393.7,683.4 394.2,687.4 394.8,691.3 395.3,695.3 395.8,699.2 396.3,703.2 396.9,707.2 397.4,711.1 397.9,715.1 398.5,719.0 399.0,723.0 399.6,727.0 400.2,730.9 400.7,734.9 401.3,738.8 401.9,742.8 402.5,746.7 403.1,750.7 403.7,754.6 404.4,758.6 405.1,762.5 405.9,766.4 406.7,770.3 407.5,774.2 408.5,778.1 409.5,782.0 410.6,785.8 411.7,789.6 413.0,793.4 414.4,797.2 415.8,800.9 417.4,804.6 419.1,808.2 420.9,811.8 422.8,815.3 424.9,818.7 427.2,822.0 429.7,825.0 432.5,827.9 435.6,830.4 439.0,832.6 442.5,834.5 446.2,836.1 449.9,837.4 453.7,838.6 457.6,839.6 461.5,840.4 465.5,841.2 469.4,841.8 473.3,842.5 477.3,843.1 481.2,843.7 485.2,844.4 489.1,845.1 493.0,845.9 496.9,846.9 500.7,848.0 504.5,849.3 508.2,850.8 511.8,852.6 515.3,854.5 518.7,856.6 522.0,858.9 525.1,861.3 528.2,863.8 531.2,866.5 534.1,869.2 537.0,872.0 539.7,874.9 542.4,877.9 545.1,880.9 547.7,883.9 550.2,887.0 552.7,890.1 555.2,893.3 557.6,896.5 560.0,899.7 562.3,902.9 564.6,906.1 566.9,909.4 569.2,912.7 571.5,916.0 573.7,919.3 575.9,922.7 578.1,926.0 580.3,929.4 582.4,932.7 584.6,936.1 586.7,939.4 588.9,942.8 591.0,946.2 593.2,949.5 595.4,952.9 597.6,956.2 600.0,959.4 602.6,962.5 605.3,965.4 608.1,968.2 611.4,970.5 615.1,971.9 619.1,971.7 622.8,970.2 626.1,968.0 629.2,965.5 632.1,962.8 634.8,959.8 637.4,956.8 639.7,953.5 641.9,950.2 643.9,946.7 645.7,943.2 647.4,939.5 648.9,935.8 650.3,932.1 651.6,928.3 652.8,924.5 654.0,920.7 655.1,916.9 656.3,913.0 657.4,909.2 658.5,905.4 659.7,901.5 660.9,897.7 662.3,894.0 663.7,890.2 665.3,886.6 666.9,882.9 668.6,879.3 670.4,875.7 672.2,872.2 674.0,868.6 675.8,865.0 677.6,861.5 679.4,857.9 681.2,854.3 682.8,850.7 684.4,847.0 685.9,843.3 687.4,839.6 688.7,835.8 690.0,832.0 691.4,828.3 692.8,824.6 694.4,820.9 696.1,817.3 698.0,813.8 700.2,810.4 702.7,807.3 705.4,804.3 708.2,801.5 711.2,798.9 714.2,796.3 717.4,793.8 720.5,791.3 723.6,788.8 726.7,786.2 729.7,783.6 732.6,780.8 735.3,778.0 737.9,774.9 740.3,771.7 742.5,768.4 744.6,765.0 746.6,761.5 748.6,758.0 750.5,754.6 752.5,751.1 754.6,747.7 756.9,744.4 759.3,741.2 762.0,738.3 765.1,735.7 768.4,733.5 772.0,731.7 775.8,730.4 779.6,729.4 783.6,728.8 787.6,728.4 791.5,728.3 795.5,728.4 799.5,728.7 803.5,729.1 807.5,729.7 811.4,730.4 815.3,731.2 819.2,732.0 823.1,733.0 827.0,734.0 830.8,735.1 834.7,736.2 838.5,737.2 842.3,738.3 846.2,739.4 850.1,740.4 853.9,741.4 857.8,742.3 861.7,743.1 865.7,743.8 869.6,744.4 873.6,744.8 877.6,745.1 881.6,745.3 885.6,745.4 889.6,745.3 893.6,745.2 897.5,745.0 901.5,744.8 905.5,744.5 909.5,744.2 913.5,743.8 917.5,743.4 921.4,743.0 925.4,742.7 929.4,742.3 933.4,742.0 937.4,741.7 941.4,741.5 945.3,741.2 949.3,741.1 953.3,740.9 957.3,740.7 961.3,740.6 965.3,740.4 969.3,740.2 973.3,739.9 977.3,739.6 981.2,739.3 985.2,738.9 989.2,738.5 993.2,738.1 997.1,737.6 1001.1,737.1 1005.1,736.6 1009.0,736.0 1013.0,735.4 1016.9,734.7 1020.9,734.1 1024.8,733.4 1028.7,732.6 1032.6,731.8 1036.5,731.0 1040.5,730.2 1044.4,729.4 1048.3,728.6 1052.2,727.8 1056.1,726.9 1060.0,726.1 1063.9,725.3 1067.9,724.6 1071.8,723.8 1075.7,723.1 1079.7,722.5 1083.6,721.8 1087.6,721.2 1091.5,720.7 1095.5,720.2 1099.4,719.7 1103.4,719.3 1107.4,718.9 1111.4,718.6 1115.4,718.4 1119.4,718.1 1123.4,718.0 1127.3,717.9 1131.3,717.8 1135.3,717.9 1139.3,718.0 1143.3,718.1 1147.3,718.3 1151.3,718.6 1155.3,719.0 1159.3,719.4 1163.2,719.9 1167.2,720.5 1171.1,721.2 1175.0,722.0 1178.9,722.8 1182.8,723.8 1186.7,724.8 1190.5,725.9 1194.3,727.1 1198.1,728.4 1201.8,729.8 1205.6,731.2 1209.3,732.6 1213.1,734.0 1216.9,735.3 1220.7,736.5 1224.5,737.6 1228.4,738.5 1232.3,739.5 1236.2,740.4 1240.1,741.3 1243.9,742.4 1247.7,743.5 1251.5,744.8 1255.3,746.1 1259.1,747.5 1262.8,749.0 1266.5,750.5 1270.1,752.1 1273.8,753.7 1277.4,755.4 1281.0,757.1 1284.6,758.8 1288.2,760.5 1291.8,762.3 1295.4,764.1 1299.0,765.9 1302.5,767.6 1306.1,769.4 1309.7,771.2 1313.3,772.9 1316.9,774.6 1320.5,776.3 1324.2,778.0 1327.9,779.5 1331.5,781.1 1335.2,782.6 1339.0,784.0 1342.7,785.3 1346.5,786.6 1350.3,787.9 1354.1,789.1 1357.9,790.4 1361.6,791.9 1365.3,793.4 1368.9,795.1 1372.4,797.1 1375.7,799.3 1379.0,801.6 1382.3,803.8 1385.9,805.6 1389.6,807.0 1393.5,808.1 1397.3,809.3 1401.0,810.9 1404.2,813.2 1406.6,816.4 1408.2,820.1 1409.3,823.9 1410.3,827.8 1411.3,831.6 1412.5,835.4 1414.2,839.0 1417.0,841.8 1420.7,841.3 1423.5,838.5 1425.9,835.3 1428.2,832.0 1430.6,828.8 1433.2,825.8 1436.6,823.8 1440.1,825.4 1442.6,828.6 1444.9,831.9 1447.2,835.1 1450.0,838.0 1453.3,840.1 1457.0,841.7 1460.8,843.1 1464.5,844.6 1468.1,846.3 1471.6,848.1 1475.1,850.1 1478.5,852.2 1481.9,854.4 1485.2,856.5 1488.6,858.6 1492.1,860.6 1495.6,862.4 1499.3,864.1 1503.0,865.6 1506.8,866.8 1510.7,867.8 1514.5,868.7 1518.4,869.7 1522.2,870.9 1525.9,872.5 1529.3,874.6 1532.5,877.0 1535.6,879.5 1538.6,882.1 1541.8,884.6 1545.0,886.9 1548.5,888.9 1552.1,890.6 1555.8,891.9 1559.7,893.0 1563.6,894.0 1567.5,894.8 1571.4,895.7 1575.3,896.6 1579.1,897.6 1583.0,898.8 1586.7,900.2 1590.3,902.0 1593.7,904.0 1597.0,906.3 1600.4,908.4 1603.9,910.2 1607.7,911.5 1611.7,912.1 1615.7,912.4 1619.6,912.7 1623.6,913.1 1627.5,914.0 1631.1,915.8 1634.2,918.3 1637.2,921.0 1640.3,923.4 1643.8,925.3 1647.5,926.8 1651.3,928.1 1655.2,929.1 1659.1,930.0 1663.0,930.9 1666.9,931.7 1670.8,932.5 1674.7,933.3 1678.6,934.1 1682.6,934.8 1686.5,935.5 1690.5,936.1 1694.4,936.7 1698.4,937.3 1702.3,937.9 1706.3,938.4 1710.2,938.9 1714.2,939.3 1718.2,939.8 1722.2,940.2 1726.1,940.5 1730.1,940.9 1734.1,941.2 1738.1,941.5 1742.1,941.8 1746.1,942.0 1750.1,942.2 1754.0,942.4 1758.0,942.6 1762.0,942.8 1766.0,942.9 1770.0,943.0" stroke="#00cccc" stroke-width="15"/>
<path d="M352.4,9.8 352.5,13.8 352.6,17.8 352.8,21.8 352.9,25.8 353.0,29.8 353.2,33.8 353.3,37.8 353.5,41.8 353.6,45.8 353.8,49.8 353.9,53.8 354.1,57.8 354.3,61.8 354.4,65.7 354.6,69.7 354.8,73.7 354.9,77.7 355.1,81.7 355.3,85.7 355.4,89.7 355.6,93.7 355.8,97.7 356.0,101.7 356.1,105.7 356.3,109.7 356.5,113.7 356.7,117.6 356.9,121.6 357.1,125.6 357.3,129.6 357.5,133.6 357.7,137.6 357.9,141.6 358.1,145.6 358.3,149.6 358.5,153.6 358.7,157.6 358.9,161.5 359.1,165.5 359.3,169.5 359.5,173.5 359.7,177.5 359.9,181.5 360.2,185.5 360.4,189.5 360.6,193.5 360.8,197.5 361.1,201.4 361.3,205.4 361.5,209.4 361.7,213.4 362.0,217.4 362.2,221.4 362.4,225.4 362.7,229.4 362.9,233.4 363.2,237.3 363.4,241.3 363.6,245.3 363.9,249.3 364.1,253.3 364.4,257.3 364.6,261.3 364.9,265.3 365.1,269.3 365.4,273.2 365.6,277.2 365.9,281.2 366.2,285.2 366.4,289.2 366.7,293.2 366.9,297.2 367.2,301.2 367.5,305.1 367.7,309.1 368.0,313.1 368.3,317.1 368.5,321.1 368.8,325.1 369.1,329.1 369.4,333.0 369.7,337.0 369.9,341.0 370.2,345.0 370.5,349.0 370.8,353.0 371.1,357.0 371.3,360.9 371.6,364.9 371.9,368.9 372.2,372.9 372.5,376.9 372.8,380.9 373.1,384.9 373.4,388.8 373.7,392.8 374.0,396.8 374.3,400.8 374.6,404.8 374.9,408.8 375.2,412.8 375.5,416.7 375.8,420.7 376.1,424.7 376.4,428.7 376.7,432.7 377.0,436.7 377.3,440.6 377.6,444.6 377.9,448.6 378.3,452.6 378.6,456.6 378.9,460.6 379.2,464.5 379.5,468.5 379.8,472.5 380.2,476.5 380.5,480.5 380.8,484.5 381.1,488.4 381.4,492.4 381.8,496.4 382.1,500.4 382.4,504.4 382.7,508.4 383.1,512.3 383.4,516.3 383.7,520.3 384.1,524.3 384.4,528.3 384.7,532.2 385.1,536.2 385.4,540.2 385.7,544.2 386.1,548.2 386.4,552.2 386.7,556.1 387.1,560.1 387.4,564.1 387.8,568.1 388.1,572.1 388.4,576.0 388.8,580.0 389.1,584.0 389.5,588.0 389.8,592.0 390.1,595.9 390.5,599.9 390.8,603.9 391.2,607.9 391.5,611.9 391.9,615.9 392.2,619.8 392.6,623.8 392.9,627.8 393.3,631.8 393.6,635.8 394.0,639.7 394.3,643.7 394.7,647.7 395.0,651.7 395.4,655.7 395.8,659.6 396.1,663.6 396.5,667.6 396.8,671.6 397.2,675.6 397.6,679.5 398.0,683.5 398.4,687.5 398.8,691.5 399.2,695.4 399.7,699.4 400.2,703.4 400.7,707.3 401.3,711.3 401.8,715.2 402.5,719.2 403.1,723.1 403.8,727.1 404.6,731.0 405.4,734.9 406.3,738.8 407.2,742.7 408.2,746.6 409.2,750.4 410.3,754.3 411.4,758.1 412.7,761.9 414.0,765.7 415.4,769.4 416.8,773.1 418.3,776.8 420.0,780.5 421.7,784.1 423.5,787.7 425.4,791.2 427.4,794.6 429.6,798.0 431.9,801.2 434.3,804.4 436.8,807.5 439.5,810.4 442.4,813.3 445.4,815.9 448.4,818.5 451.6,820.9 454.9,823.2 458.2,825.4 461.6,827.5 465.0,829.6 468.5,831.6 472.0,833.5 475.4,835.5 479.0,837.4 482.5,839.3 485.9,841.3 489.4,843.2 492.9,845.2 496.3,847.3 499.7,849.4 503.1,851.6 506.3,853.9 509.5,856.2 512.7,858.7 515.7,861.4 518.6,864.1 521.3,867.0 524.0,870.0 526.5,873.1 528.9,876.3 531.1,879.6 533.3,883.0 535.4,886.4 537.4,889.8 539.4,893.3 541.3,896.8 543.1,900.4 544.9,903.9 546.7,907.5 548.5,911.1 550.3,914.7 552.0,918.2 553.8,921.8 555.6,925.4 557.4,928.9 559.3,932.5 561.3,935.9 563.3,939.4 565.3,942.8 567.4,946.2 569.5,949.6 571.6,953.0 573.8,956.4 575.9,959.8 578.0,963.2 580.0,966.6 582.0,970.1 584.0,973.6 585.8,977.1 587.6,980.7 589.4,984.3 591.0,987.9 592.5,991.6 593.9,995.4 595.3,999.1 596.7,1002.9 598.2,1006.6 599.9,1010.2 601.7,1013.7 603.9,1017.1 606.3,1020.2 609.2,1023.1 612.4,1025.5 615.9,1027.3 619.7,1028.4 623.7,1028.5 627.6,1027.6 631.3,1026.0 634.6,1023.8 637.8,1021.3 640.7,1018.6 643.4,1015.7 645.9,1012.6 648.3,1009.4 650.5,1006.1 652.6,1002.7 654.6,999.2 656.6,995.7 658.4,992.2 660.1,988.5 661.7,984.9 663.3,981.2 664.8,977.5 666.3,973.8 667.7,970.1 669.1,966.3 670.5,962.6 671.8,958.8 673.1,955.0 674.4,951.3 675.6,947.5 676.9,943.7 678.1,939.9 679.3,936.0 680.4,932.2 681.6,928.4 682.7,924.5 683.8,920.7 684.9,916.9 686.0,913.0 687.0,909.2 688.1,905.3 689.1,901.5 690.2,897.6 691.2,893.7 692.2,889.9 693.2,886.0 694.2,882.1 695.2,878.3 696.2,874.4 697.1,870.5 698.1,866.6 699.1,862.8 700.1,858.9 701.1,855.0 702.1,851.1 703.1,847.3 704.0,843.4 705.0,839.5 706.1,835.7 707.1,831.8 708.1,827.9 709.1,824.1 710.1,820.2 711.2,816.3 712.2,812.5 713.2,808.6 714.3,804.8 715.3,800.9 716.4,797.1 717.4,793.2 718.5,789.3 719.5,785.5 720.6,781.6 721.6,777.8 722.7,773.9 723.8,770.1 724.8,766.2 725.9,762.4 727.0,758.5 728.0,754.7 729.1,750.8 730.2,747.0 731.2,743.1 732.3,739.3 733.4,735.4 734.4,731.6 735.5,727.7 736.6,723.9 737.6,720.0 738.7,716.2 739.8,712.3 740.8,708.5 741.9,704.6 742.9,700.8 744.0,696.9 745.0,693.1 746.1,689.2 747.1,685.3 748.2,681.5 749.2,677.6 750.2,673.8 751.3,669.9 752.3,666.0 753.3,662.2 754.3,658.3 755.3,654.4 756.4,650.6 757.3,646.7 758.3,642.8 759.3,639.0 760.3,635.1 761.3,631.2 762.3,627.3 763.2,623.5 764.2,619.6 765.1,615.7 766.1,611.8 767.0,607.9 767.9,604.0 768.8,600.2 769.7,596.3 770.6,592.4 771.6,588.5 772.5,584.6 773.4,580.7 774.4,576.8 775.4,573.0 776.4,569.1 777.5,565.3 778.7,561.4 779.9,557.6 781.2,553.9 782.6,550.1 784.1,546.4 785.7,542.8 787.5,539.2 789.3,535.6 791.2,532.1 793.3,528.7 795.5,525.4 797.8,522.1 800.3,518.9 802.9,515.9 805.6,513.0 808.6,510.4 811.8,508.0 815.2,505.9 818.9,504.4 822.8,503.5 826.8,503.4 830.7,504.1 834.5,505.3 838.2,506.9 841.8,508.7 845.3,510.6 848.7,512.6 852.2,514.5 855.8,516.4 859.3,518.2 862.9,519.9 866.6,521.5 870.3,523.1 874.0,524.6 877.7,526.1 881.4,527.6 885.1,529.0 888.8,530.5 892.5,532.0 896.2,533.5 899.9,535.1 903.5,536.8 907.1,538.6 910.6,540.5 914.1,542.4 917.5,544.5 920.9,546.6 924.2,548.8 927.5,551.1 930.8,553.4 933.9,555.8 937.0,558.3 940.1,560.9 943.1,563.5 946.1,566.2 949.0,568.9 951.9,571.7 954.7,574.5 957.5,577.4 960.2,580.3 962.9,583.3 965.6,586.3 968.2,589.3 970.7,592.3 973.3,595.4 975.8,598.6 978.2,601.7 980.7,604.9 983.1,608.1 985.4,611.3 987.8,614.5 990.1,617.8 992.4,621.1 994.7,624.3 996.9,627.6 999.1,631.0 1001.3,634.3 1003.5,637.6 1005.7,641.0 1007.8,644.4 1009.9,647.8 1012.1,651.2 1014.1,654.6 1016.2,658.0 1018.3,661.4 1020.3,664.8 1022.3,668.3 1024.4,671.7 1026.4,675.2 1028.3,678.7 1030.3,682.1 1032.3,685.6 1034.2,689.1 1036.2,692.6 1038.1,696.1 1040.1,699.6 1042.0,703.1 1043.9,706.6 1045.8,710.1 1047.7,713.6 1049.6,717.1 1051.5,720.6 1053.5,724.1 1055.4,727.7 1057.3,731.2 1059.2,734.7 1061.1,738.2 1063.0,741.7 1064.9,745.2 1066.8,748.7 1068.7,752.2 1070.6,755.7 1072.6,759.2 1074.5,762.7 1076.4,766.2 1078.4,769.7 1080.4,773.2 1082.3,776.7 1084.3,780.1 1086.3,783.6 1088.3,787.1 1090.3,790.5 1092.3,793.9 1094.4,797.4 1096.5,800.8 1098.5,804.2 1100.6,807.6 1102.7,811.0 1104.9,814.4 1107.0,817.8 1109.2,821.1 1111.4,824.5 1113.6,827.8 1115.8,831.1 1118.0,834.4 1120.3,837.7 1122.6,841.0 1124.9,844.2 1127.3,847.5 1129.7,850.7 1132.1,853.9 1134.5,857.0 1137.0,860.2 1139.5,863.3 1142.0,866.4 1144.5,869.5 1147.1,872.5 1149.7,875.5 1152.4,878.5 1155.1,881.5 1157.8,884.4 1160.5,887.3 1163.3,890.2 1166.1,893.0 1169.0,895.8 1171.9,898.6 1174.8,901.3 1177.8,903.9 1180.8,906.6 1183.9,909.1 1187.0,911.7 1190.1,914.2 1193.2,916.6 1196.4,919.0 1199.7,921.4 1202.9,923.7 1206.2,926.0 1209.5,928.2 1212.8,930.5 1216.1,932.7 1219.5,934.9 1222.8,937.0 1226.2,939.2 1229.6,941.4 1232.9,943.5 1236.3,945.7 1239.6,947.9 1243.0,950.0 1246.3,952.2 1249.7,954.4 1253.0,956.6 1256.4,958.7 1259.8,960.9 1263.1,963.0 1266.5,965.2 1269.9,967.3 1273.3,969.4 1276.7,971.5 1280.1,973.6 1283.5,975.7 1286.9,977.7 1290.4,979.7 1293.9,981.7 1297.4,983.6 1300.9,985.5 1304.4,987.4 1308.0,989.2 1311.5,991.0 1315.1,992.8 1318.7,994.6 1322.3,996.3 1325.9,997.9 1329.6,999.6 1333.2,1001.2 1336.9,1002.8 1340.6,1004.3 1344.3,1005.8 1348.0,1007.3 1351.7,1008.8 1355.5,1010.2 1359.2,1011.6 1363.0,1013.0 1366.7,1014.3 1370.5,1015.6 1374.3,1016.9 1378.1,1018.1 1381.9,1019.4 1385.7,1020.5 1389.5,1021.7 1393.3,1022.8 1397.2,1024.0 1401.0,1025.0 1404.9,1026.1 1408.7,1027.1 1412.6,1028.1 1416.5,1029.1 1420.4,1030.1 1424.2,1031.0 1428.1,1031.9 1432.0,1032.8 1435.9,1033.7 1439.8,1034.5 1443.7,1035.4 1447.7,1036.2 1451.6,1037.0 1455.5,1037.7 1459.4,1038.5 1463.4,1039.2 1467.3,1039.9 1471.2,1040.6 1475.2,1041.2 1479.1,1041.9 1483.1,1042.5 1487.0,1043.1 1491.0,1043.7 1494.9,1044.3 1498.9,1044.9 1502.8,1045.4 1506.8,1046.0 1510.7,1046.5 1514.7,1047.0 1518.7,1047.5 1522.6,1048.0 1526.6,1048.4 1530.6,1048.9 1534.6,1049.3 1538.5,1049.7 1542.5,1050.2 1546.5,1050.6 1550.4,1051.0 1554.4,1051.4 1558.4,1051.7 1562.4,1052.1 1566.4,1052.5 1570.3,1052.8 1574.3,1053.2 1578.3,1053.5 1582.3,1053.8 1586.3,1054.1 1590.3,1054.5 1594.2,1054.8 1598.2,1055.1 1602.2,1055.4 1606.2,1055.6 1610.2,1055.9 1614.2,1056.2 1618.2,1056.5 1622.1,1056.8 1626.1,1057.0 1630.1,1057.3 1634.1,1057.6 1638.1,1057.8 1642.1,1058.1 1646.1,1058.4 1650.0,1058.6 1654.0,1058.9 1658.0,1059.2 1662.0,1059.4 1666.0,1059.7 1670.0,1059.9 1674.0,1060.2 1678.0,1060.5 1681.9,1060.7 1685.9,1061.0 1689.9,1061.3 1693.9,1061.6 1697.9,1061.8 1701.9,1062.1 1705.9,1062.4 1709.8,1062.7 1713.8,1063.0 1717.8,1063.3 1721.8,1063.6 1725.8,1064.0 1729.8,1064.3 1733.7,1064.6 1737.7,1065.0 1741.7,1065.3 1745.7,1065.7 1749.7,1066.1 1753.6,1066.5 1757.6,1066.8 1761.6,1067.3 1765.6,1067.7 1769.5,1068.1" stroke="#ff00cc" stroke-width="14"/>
</g>
<path d="M323.7 31.799999999999997 V1096.0 M1764 31.799999999999997 V1096.0 M317.2 1089.5 H1770.5" stroke="#000" stroke-width="13" fill="none"/>
<path d="M317.2 37.3 H1770.5" stroke="#000" stroke-width="11" fill="none"/>
<path d="M803.3 1089.5 V1074.5 M803.3 37.3 V50.3 M1283.7 1089.5 V1074.5 M1283.7 37.3 V50.3 M323.7 914.0 H338.7 M1764 914.0 H1748.5 M323.7 738.5 H338.7 M1764 738.5 H1748.5 M323.7 563.0 H338.7 M1764 563.0 H1748.5 M323.7 387.5 H338.7 M1764 387.5 H1748.5 M323.7 212.0 H338.7 M1764 212.0 H1748.5" stroke="#000" stroke-width="13" fill="none"/>
<text transform="translate(304.5 1128.0) scale(1 1.035)" font-family="Liberation Sans, Arial, sans-serif" font-weight="bold" font-size="106" text-anchor="end">0</text>
<text transform="translate(304.5 952.5) scale(1 1.035)" font-family="Liberation Sans, Arial, sans-serif" font-weight="bold" font-size="106" text-anchor="end">0.1</text>
<text transform="translate(304.5 777.0) scale(1 1.035)" font-family="Liberation Sans, Arial, sans-serif" font-weight="bold" font-size="106" text-anchor="end">0.2</text>
<text transform="translate(304.5 601.5) scale(1 1.035)" font-family="Liberation Sans, Arial, sans-serif" font-weight="bold" font-size="106" text-anchor="end">0.3</text>
<text transform="translate(304.5 426.0) scale(1 1.035)" font-family="Liberation Sans, Arial, sans-serif" font-weight="bold" font-size="106" text-anchor="end">0.4</text>
<text transform="translate(304.5 250.5) scale(1 1.035)" font-family="Liberation Sans, Arial, sans-serif" font-weight="bold" font-size="106" text-anchor="end">0.5</text>
<text transform="translate(325 1207) scale(1 1.035)" font-family="Liberation Sans, Arial, sans-serif" font-weight="bold" font-size="105" text-anchor="middle">200</text>
<text transform="translate(803.5 1207) scale(1 1.035)" font-family="Liberation Sans, Arial, sans-serif" font-weight="bold" font-size="105" text-anchor="middle">400</text>
<text transform="translate(1281.2 1207) scale(1 1.035)" font-family="Liberation Sans, Arial, sans-serif" font-weight="bold" font-size="105" text-anchor="middle">600</text>
<text transform="translate(1763.6 1207) scale(1 1.035)" font-family="Liberation Sans, Arial, sans-serif" font-weight="bold" font-size="105" text-anchor="middle">800</text>
<text x="1044.5" y="1324" font-family="Liberation Sans, Arial, sans-serif" font-weight="bold" font-size="103.6" text-anchor="middle" stroke="#fff" stroke-width="1.4">Wavelength(nm)</text>
<text transform="translate(102.5 565.5) rotate(-90)" font-family="Liberation Sans, Arial, sans-serif" font-weight="bold" font-size="104" text-anchor="middle" stroke="#fff" stroke-width="1.4">Absorbance</text>
<line x1="818" y1="119" x2="802" y2="141" stroke="#00903a" stroke-width="6" stroke-linecap="round"/>
<line x1="752" y1="152" x2="796" y2="192" stroke="#00903a" stroke-width="6" stroke-linecap="round"/>
<line x1="737" y1="221" x2="781" y2="233" stroke="#00903a" stroke-width="6" stroke-linecap="round"/>
<line x1="716" y1="457" x2="793" y2="520" stroke="#00903a" stroke-width="6" stroke-linecap="round"/>
<line x1="666" y1="637" x2="777" y2="728" stroke="#00903a" stroke-width="6" stroke-linecap="round"/>
<text x="847" y="126" font-family="Liberation Sans, Arial, sans-serif" font-weight="bold" font-size="87" text-anchor="middle">a</text>
<text x="733" y="147" font-family="Liberation Sans, Arial, sans-serif" font-weight="bold" font-size="87" text-anchor="middle">c</text>
<text x="709" y="235" font-family="Liberation Sans, Arial, sans-serif" font-weight="bold" font-size="87" text-anchor="middle">b</text>
<text x="687" y="456" font-family="Liberation Sans, Arial, sans-serif" font-weight="bold" font-size="87" text-anchor="middle">e</text>
<text x="639" y="632" font-family="Liberation Sans, Arial, sans-serif" font-weight="bold" font-size="87" text-anchor="middle">d</text>
<rect x="1006" y="63.3" width="727" height="314.8" fill="#fff" stroke="#0a2aff" stroke-width="8.5"/>
<text x="1044" y="119" font-family="Liberation Sans, Arial, sans-serif" font-size="69" text-anchor="middle" stroke="#000" stroke-width="1.3">a</text>
<line x1="1085" y1="102" x2="1117" y2="102" stroke="#0030ff" stroke-width="11" stroke-linecap="round"/>
<text transform="translate(1139 118.2) scale(1 1.035)" font-family="Liberation Sans, Arial, sans-serif" font-weight="bold" font-size="46.4">AgNPs</text>
<text x="1044" y="183" font-family="Liberation Sans, Arial, sans-serif" font-size="69" text-anchor="middle" stroke="#000" stroke-width="1.3">b</text>
<line x1="1085" y1="163" x2="1117" y2="163" stroke="#008800" stroke-width="11" stroke-linecap="round"/>
<text transform="translate(1139 176.2) scale(1 1.035)" font-family="Liberation Sans, Arial, sans-serif" font-weight="bold" font-size="46.4">AgNPs+ATCh</text>
<text x="1044" y="236" font-family="Liberation Sans, Arial, sans-serif" font-size="69" text-anchor="middle" stroke="#000" stroke-width="1.3">c</text>
<line x1="1085" y1="217" x2="1117" y2="217" stroke="#ff0000" stroke-width="11" stroke-linecap="round"/>
<text transform="translate(1139 235.2) scale(1 1.035)" font-family="Liberation Sans, Arial, sans-serif" font-weight="bold" font-size="46.4">AgNPs+AChE</text>
<text x="1044" y="295" font-family="Liberation Sans, Arial, sans-serif" font-size="69" text-anchor="middle" stroke="#000" stroke-width="1.3">d</text>
<line x1="1085" y1="277.6" x2="1117" y2="277.6" stroke="#00a0a0" stroke-width="11" stroke-linecap="round"/>
<text transform="translate(1139 294.2) scale(1 1.035)" font-family="Liberation Sans, Arial, sans-serif" font-weight="bold" font-size="46.4">AgNPs+ATCh+AChE</text>
<text x="1044" y="355" font-family="Liberation Sans, Arial, sans-serif" font-size="69" text-anchor="middle" stroke="#000" stroke-width="1.3">e</text>
<line x1="1085" y1="334.5" x2="1117" y2="334.5" stroke="#b0008f" stroke-width="11" stroke-linecap="round"/>
<text transform="translate(1139 354.2) scale(1 1.035)" font-family="Liberation Sans, Arial, sans-serif" font-weight="bold" font-size="46.4">AgNPs+ATCh+AChE+OPs</text>
<defs><filter id="phb" x="-2%" y="-2%" width="104%" height="104%"><feGaussianBlur stdDeviation="2.8"/></filter><linearGradient id="phbg" x1="0" y1="0" x2="0" y2="1"><stop offset="0" stop-color="#f3f2f5"/><stop offset="0.55" stop-color="#ebeaee"/><stop offset="0.8" stop-color="#eeedef"/><stop offset="0.9" stop-color="#f6f5f5"/><stop offset="1" stop-color="#f5f5f5"/></linearGradient><linearGradient id="liq0" x1="0" y1="0" x2="1" y2="0"><stop offset="0" stop-color="#f6eab0"/><stop offset="0.18" stop-color="#ecd796"/><stop offset="0.8" stop-color="#ecd796"/><stop offset="1" stop-color="#f6eab0"/></linearGradient><linearGradient id="liq1" x1="0" y1="0" x2="1" y2="0"><stop offset="0" stop-color="#f8eeac"/><stop offset="0.18" stop-color="#f0df92"/><stop offset="0.8" stop-color="#f0df92"/><stop offset="1" stop-color="#f8eeac"/></linearGradient><linearGradient id="liq2" x1="0" y1="0" x2="1" y2="0"><stop offset="0" stop-color="#f4eca8"/><stop offset="0.18" stop-color="#ebe08e"/><stop offset="0.8" stop-color="#ebe08e"/><stop offset="1" stop-color="#f4eca8"/></linearGradient><linearGradient id="liq3" x1="0" y1="0" x2="1" y2="0"><stop offset="0" stop-color="#c98c84"/><stop offset="0.18" stop-color="#bd7670"/><stop offset="0.8" stop-color="#bd7670"/><stop offset="1" stop-color="#c98c84"/></linearGradient><linearGradient id="liq4" x1="0" y1="0" x2="1" y2="0"><stop offset="0" stop-color="#a88a6c"/><stop offset="0.18" stop-color="#977d66"/><stop offset="0.8" stop-color="#977d66"/><stop offset="1" stop-color="#a88a6c"/></linearGradient></defs>
<rect x="1055" y="404" width="675" height="291" fill="url(#phbg)"/>
<g filter="url(#phb)"><rect x="1055" y="404" width="675" height="4" fill="#f6f0dc"/><rect x="1076" y="414" width="100" height="276" rx="12" fill="#f6f4f8"/><rect x="1086" y="420" width="12" height="139" fill="#ffffff" opacity="0.75"/><rect x="1152" y="420" width="8" height="139" fill="#ffffff" opacity="0.5"/><rect x="1078" y="563" width="96" height="124" rx="14" fill="url(#liq0)"/><rect x="1078" y="563" width="96" height="16" fill="url(#liq0)"/><path d="M1079 565 Q1126.0 581 1173 567 L1173 573 Q1126.0 587 1079 572 Z" fill="#f0cf60" opacity="0.85"/><rect x="1082" y="662" width="88" height="22" rx="9" fill="#f6eeb4" opacity="0.75"/><rect x="1208" y="414" width="97" height="276" rx="12" fill="#f4f4f6"/><rect x="1218" y="420" width="12" height="135" fill="#ffffff" opacity="0.75"/><rect x="1281" y="420" width="8" height="135" fill="#ffffff" opacity="0.5"/><rect x="1210" y="559" width="93" height="128" rx="14" fill="url(#liq1)"/><rect x="1210" y="559" width="93" height="16" fill="url(#liq1)"/><path d="M1211 561 Q1256.5 577 1302 563 L1302 569 Q1256.5 583 1211 568 Z" fill="#f2d450" opacity="0.85"/><rect x="1214" y="662" width="85" height="22" rx="9" fill="#f6f0b0" opacity="0.75"/><rect x="1345" y="414" width="92" height="276" rx="12" fill="#f0f0f2"/><rect x="1355" y="420" width="12" height="136" fill="#ffffff" opacity="0.75"/><rect x="1413" y="420" width="8" height="136" fill="#ffffff" opacity="0.5"/><rect x="1347" y="560" width="88" height="127" rx="14" fill="url(#liq2)"/><rect x="1347" y="560" width="88" height="16" fill="url(#liq2)"/><path d="M1348 562 Q1391.0 578 1434 564 L1434 570 Q1391.0 584 1348 569 Z" fill="#ecd24a" opacity="0.85"/><rect x="1351" y="662" width="80" height="22" rx="9" fill="#f2eeac" opacity="0.75"/><rect x="1479" y="414" width="94" height="276" rx="12" fill="#d9d9de"/><rect x="1489" y="420" width="12" height="128" fill="#ffffff" opacity="0.75"/><rect x="1549" y="420" width="8" height="128" fill="#ffffff" opacity="0.5"/><rect x="1481" y="552" width="90" height="135" rx="14" fill="url(#liq3)"/><rect x="1481" y="552" width="90" height="16" fill="url(#liq3)"/><path d="M1482 554 Q1526.0 570 1570 556 L1570 562 Q1526.0 576 1482 561 Z" fill="#b05850" opacity="0.85"/><rect x="1485" y="662" width="82" height="22" rx="9" fill="#c49088" opacity="0.75"/><circle cx="1488" cy="582" r="3.5" fill="#f4a860" opacity="0.8"/><circle cx="1488" cy="608" r="3.5" fill="#f4a860" opacity="0.8"/><circle cx="1565" cy="616" r="3.5" fill="#f4a860" opacity="0.7"/><circle cx="1488" cy="634" r="3.5" fill="#f4a860" opacity="0.8"/><circle cx="1488" cy="660" r="3.5" fill="#f4a860" opacity="0.8"/><circle cx="1565" cy="668" r="3.5" fill="#f4a860" opacity="0.7"/><rect x="1606" y="414" width="100" height="276" rx="12" fill="#d6d7dc"/><rect x="1616" y="420" width="12" height="130" fill="#ffffff" opacity="0.75"/><rect x="1682" y="420" width="8" height="130" fill="#ffffff" opacity="0.5"/><rect x="1608" y="554" width="96" height="133" rx="14" fill="url(#liq4)"/><rect x="1608" y="554" width="96" height="16" fill="url(#liq4)"/><path d="M1609 556 Q1656.0 572 1703 558 L1703 564 Q1656.0 578 1609 563 Z" fill="#a87038" opacity="0.85"/><rect x="1612" y="662" width="88" height="22" rx="9" fill="#a89078" opacity="0.75"/><circle cx="1615" cy="584" r="3.5" fill="#f4a860" opacity="0.8"/><circle cx="1615" cy="610" r="3.5" fill="#f4a860" opacity="0.8"/><circle cx="1698" cy="618" r="3.5" fill="#f4a860" opacity="0.7"/><circle cx="1615" cy="636" r="3.5" fill="#f4a860" opacity="0.8"/><circle cx="1615" cy="662" r="3.5" fill="#f4a860" opacity="0.8"/><circle cx="1698" cy="670" r="3.5" fill="#f4a860" opacity="0.7"/></g>
<text x="1122.8" y="477.5" font-family="Liberation Sans, Arial, sans-serif" font-size="71" text-anchor="middle" fill="#000" stroke="#000" stroke-width="1.3">a</text>
<text x="1257.5" y="477.5" font-family="Liberation Sans, Arial, sans-serif" font-size="71" text-anchor="middle" fill="#000" stroke="#000" stroke-width="1.3">b</text>
<text x="1395.3" y="476" font-family="Liberation Sans, Arial, sans-serif" font-size="71" text-anchor="middle" fill="#000" stroke="#000" stroke-width="1.3">c</text>
<text x="1531.5" y="471" font-family="Liberation Sans, Arial, sans-serif" font-size="71" text-anchor="middle" fill="#000" stroke="#000" stroke-width="1.3">d</text>
<text x="1662" y="471" font-family="Liberation Sans, Arial, sans-serif" font-size="71" text-anchor="middle" fill="#000" stroke="#000" stroke-width="1.3">e</text>
<rect x="1052" y="401" width="681.4" height="297.7" fill="none" stroke="#0a2aff" stroke-width="8"/>
</svg>
</body></html>
